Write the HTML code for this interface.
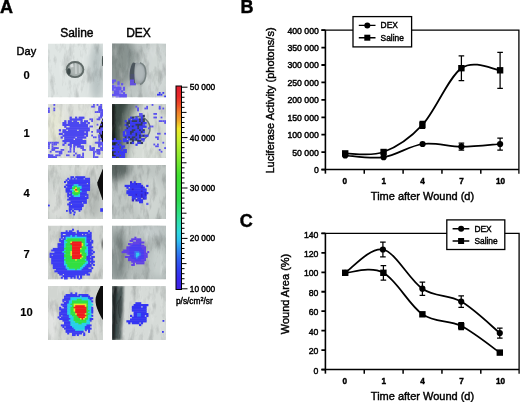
<!DOCTYPE html>
<html><head><meta charset="utf-8"><style>
html,body{margin:0;padding:0;background:#fff;}
body{width:520px;height:402px;overflow:hidden;}
svg{display:block;font-family:"Liberation Sans", sans-serif;will-change:transform;}
text{stroke:#000;stroke-width:0.42px;}
.tk{stroke-width:0.45px;}
</style></head><body>
<svg width="520" height="402" viewBox="0 0 520 402" fill="#000">
<text x="0" y="12.8" font-size="18" font-weight="bold" text-anchor="start" >A</text>
<text x="240.5" y="12.8" font-size="18" font-weight="bold" text-anchor="start" >B</text>
<text x="239.8" y="227.4" font-size="18" font-weight="bold" text-anchor="start" >C</text>
<text x="60.2" y="37.4" font-size="12" font-weight="normal" text-anchor="start" >Saline</text>
<text x="126.2" y="37.4" font-size="12" font-weight="normal" text-anchor="start" >DEX</text>
<text x="16.6" y="54.7" font-size="11" font-weight="normal" text-anchor="start" >Day</text>
<text x="26.5" y="78.5" font-size="11.2" font-weight="bold" text-anchor="middle" style="stroke-width:0.15px">0</text>
<text x="26.5" y="137.3" font-size="11.2" font-weight="bold" text-anchor="middle" style="stroke-width:0.15px">1</text>
<text x="26.5" y="196.6" font-size="11.2" font-weight="bold" text-anchor="middle" style="stroke-width:0.15px">4</text>
<text x="26.5" y="258.4" font-size="11.2" font-weight="bold" text-anchor="middle" style="stroke-width:0.15px">7</text>
<text x="26.5" y="316" font-size="11.2" font-weight="bold" text-anchor="middle" style="stroke-width:0.15px">10</text>
<defs>
<filter id="nd" x="0" y="0" width="100%" height="100%" color-interpolation-filters="sRGB">
 <feTurbulence type="fractalNoise" baseFrequency="0.16 0.06" numOctaves="4" seed="4"/>
 <feColorMatrix type="matrix" values="0 0 0 0 0.1  0 0 0 0 0.12  0 0 0 0 0.12  2.2 0 0 0 -1.05"/>
</filter>
<filter id="nl" x="0" y="0" width="100%" height="100%" color-interpolation-filters="sRGB">
 <feTurbulence type="fractalNoise" baseFrequency="0.2 0.05" numOctaves="4" seed="11"/>
 <feColorMatrix type="matrix" values="0 0 0 0 1  0 0 0 0 1  0 0 0 0 1  -2.2 0 0 0 0.95"/>
</filter>
<filter id="bl1" x="-50%" y="-50%" width="200%" height="200%"><feGaussianBlur stdDeviation="0.9"/></filter>
<filter id="bl2" x="-50%" y="-50%" width="200%" height="200%"><feGaussianBlur stdDeviation="2"/></filter>
<filter id="bl3" x="-50%" y="-50%" width="200%" height="200%"><feGaussianBlur stdDeviation="3.5"/></filter>
<filter id="bb" x="-50%" y="-50%" width="200%" height="200%"><feGaussianBlur stdDeviation="0.6"/></filter>
<filter id="bb2" x="-5%" y="-5%" width="110%" height="110%"><feGaussianBlur stdDeviation="0.3"/></filter>
<clipPath id="tc1"><rect x="48" y="43.5" width="55" height="54"/></clipPath><clipPath id="tc2"><rect x="112" y="43.5" width="54" height="54"/></clipPath><clipPath id="tc3"><rect x="48" y="104" width="55" height="54"/></clipPath><clipPath id="tc4"><rect x="112" y="104" width="54" height="54"/></clipPath><clipPath id="tc5"><rect x="48" y="165" width="55" height="54"/></clipPath><clipPath id="tc6"><rect x="112" y="165" width="54" height="54"/></clipPath><clipPath id="tc7"><rect x="48" y="225.5" width="55" height="54"/></clipPath><clipPath id="tc8"><rect x="112" y="225.5" width="54" height="54"/></clipPath><clipPath id="tc9"><rect x="48" y="286" width="55" height="54"/></clipPath><clipPath id="tc10"><rect x="112" y="286" width="54" height="54"/></clipPath></defs><g clip-path="url(#tc1)"><rect x="48" y="43.5" width="55" height="54" fill="#dfe5e3"/><ellipse cx="97" cy="72" rx="7" ry="30" fill="#b8c2c2" filter="url(#bl3)"/><rect x="48" y="43.5" width="55" height="54" filter="url(#nd)" opacity="0.2"/><rect x="48" y="43.5" width="55" height="54" filter="url(#nl)" opacity="0.36"/><path d="M102.3 56 C101.8 59 101.8 63 102.3 66 L104 66 L104 56Z" fill="#4a5452" filter="url(#bb)"/><ellipse cx="75" cy="69.6" rx="9.2" ry="8.3" fill="#98a2a0" filter="url(#bb)"/><ellipse cx="76" cy="69.4" rx="6.5" ry="6" fill="#aeb6b4" filter="url(#bl1)"/><path d="M70 63.5 L73 63 L73.5 67 L70.5 67.5Z" fill="#e6eaea" opacity="0.8" filter="url(#bb)"/><path d="M74.8 63 L76.6 63 L77 74 L75.2 74Z" fill="#dce2e2" opacity="0.55" filter="url(#bb)"/><path d="M78.8 64 L80.4 64 L80.6 73 L79 73Z" fill="#d4dada" opacity="0.6" filter="url(#bb)"/><ellipse cx="75" cy="69.6" rx="8.4" ry="7.6" fill="none" stroke="#606a68" stroke-width="1.8" filter="url(#bb)"/><ellipse cx="68.9" cy="71.5" rx="1.8" ry="3.2" fill="#3e4848" filter="url(#bb)"/></g>
<g clip-path="url(#tc2)"><rect x="112" y="43.5" width="54" height="54" fill="#bdc5c3"/><ellipse cx="118" cy="60" rx="18" ry="26" fill="#7c8684" filter="url(#bl3)" opacity="0.8"/><ellipse cx="156" cy="70" rx="14" ry="30" fill="#d6dcda" filter="url(#bl3)" opacity="0.8"/><rect x="112" y="43.5" width="54" height="54" filter="url(#nd)" opacity="0.225"/><rect x="112" y="43.5" width="54" height="54" filter="url(#nl)" opacity="0.3"/><ellipse cx="137.3" cy="73.5" rx="8.6" ry="11" fill="#98a0a4" filter="url(#bb)"/><ellipse cx="139.5" cy="73" rx="5" ry="8.5" fill="#b0b8ba" filter="url(#bl1)"/><path d="M133 62.5 C129.5 66 128.5 79 131 84.5 L135.5 84.5 C134 78 134 68 135.5 63Z" fill="#4c545c" filter="url(#bb)"/><path d="M130.5 74 L134.5 74 L134.5 82 L130.5 82Z" fill="#5040d0" opacity="0.15" filter="url(#bb)"/><path d="M140 62.8 C147.5 65 148 81 140 84.5" fill="none" stroke="#788282" stroke-width="1.6" filter="url(#bb)"/><g filter="url(#bb2)"><rect x="112.00" y="79.50" width="4.05" height="2.25" fill="#6254ee"/><rect x="112.00" y="81.30" width="2.25" height="2.25" fill="#6254ee"/><rect x="117.40" y="81.30" width="2.25" height="2.25" fill="#6254ee"/><rect x="117.40" y="83.10" width="2.25" height="2.25" fill="#6254ee"/><rect x="121.00" y="83.10" width="2.25" height="2.25" fill="#6254ee"/><rect x="112.00" y="84.90" width="2.25" height="2.25" fill="#6254ee"/><rect x="113.80" y="84.90" width="2.25" height="2.25" fill="#8a7cf0"/><rect x="117.40" y="84.90" width="2.25" height="2.25" fill="#8a7cf0"/><rect x="112.00" y="86.70" width="9.45" height="2.25" fill="#6254ee"/><rect x="122.80" y="86.70" width="2.25" height="2.25" fill="#6254ee"/><rect x="112.00" y="88.50" width="2.25" height="2.25" fill="#6254ee"/><rect x="113.80" y="88.50" width="2.25" height="2.25" fill="#8a7cf0"/><rect x="115.60" y="88.50" width="5.85" height="2.25" fill="#6254ee"/><rect x="122.80" y="88.50" width="2.25" height="2.25" fill="#6254ee"/><rect x="113.80" y="90.30" width="5.85" height="2.25" fill="#6254ee"/><rect x="119.20" y="90.30" width="2.25" height="2.25" fill="#8a7cf0"/><rect x="121.00" y="90.30" width="2.25" height="2.25" fill="#6254ee"/><rect x="113.80" y="92.10" width="5.85" height="2.25" fill="#6254ee"/><rect x="119.20" y="92.10" width="2.25" height="2.25" fill="#8a7cf0"/><rect x="122.80" y="92.10" width="2.25" height="2.25" fill="#6254ee"/><rect x="112.00" y="93.90" width="14.85" height="2.25" fill="#6254ee"/><rect x="115.60" y="95.70" width="4.05" height="2.25" fill="#8a7cf0"/><rect x="119.20" y="95.70" width="7.65" height="2.25" fill="#6254ee"/><rect x="112.00" y="97.50" width="2.25" height="2.25" fill="#8a7cf0"/><rect x="115.60" y="97.50" width="2.25" height="2.25" fill="#6254ee"/><rect x="119.20" y="97.50" width="2.25" height="2.25" fill="#6254ee"/><rect x="121.00" y="97.50" width="2.25" height="2.25" fill="#8a7cf0"/></g><g filter="url(#bb2)"><rect x="130.00" y="79.50" width="4.05" height="2.25" fill="#6250e0"/><rect x="130.00" y="81.30" width="4.05" height="2.25" fill="#6250e0"/><rect x="130.00" y="83.10" width="5.85" height="2.25" fill="#6250e0"/></g><rect x="164.20" y="95.60" width="1.80" height="1.80" fill="#3a3af2"/><rect x="160.60" y="93.80" width="1.80" height="1.80" fill="#3a3af2"/><rect x="158.80" y="92.00" width="1.80" height="1.80" fill="#3a3af2"/><rect x="157.00" y="93.80" width="3.60" height="1.80" fill="#3a3af2"/><rect x="162.40" y="92.00" width="1.80" height="1.80" fill="#3a3af2"/></g>
<g clip-path="url(#tc3)"><rect x="48" y="104" width="55" height="54" fill="#dfe2dc"/><ellipse cx="55" cy="125" rx="8" ry="18" fill="#e4e6d4" filter="url(#bl3)"/><rect x="48" y="104" width="55" height="54" filter="url(#nd)" opacity="0.175"/><rect x="48" y="104" width="55" height="54" filter="url(#nl)" opacity="0.3"/><path d="M104 117 L103 117.7 L98.6 129 L98.7 131.5 L103 143.8 L104 144 Z" fill="#080808" filter="url(#bb2)"/><g filter="url(#bb2)"><rect x="69.60" y="116.60" width="2.25" height="2.25" fill="#4c46f0"/><rect x="75.00" y="116.60" width="2.25" height="2.25" fill="#4c46f0"/><rect x="78.60" y="116.60" width="5.85" height="2.25" fill="#4c46f0"/><rect x="69.60" y="118.40" width="13.05" height="2.25" fill="#4c46f0"/><rect x="64.20" y="120.20" width="2.25" height="2.25" fill="#4c46f0"/><rect x="67.80" y="120.20" width="4.05" height="2.25" fill="#4c46f0"/><rect x="73.20" y="120.20" width="4.05" height="2.25" fill="#4c46f0"/><rect x="80.40" y="120.20" width="2.25" height="2.25" fill="#4c46f0"/><rect x="84.00" y="120.20" width="4.05" height="2.25" fill="#4c46f0"/><rect x="62.40" y="122.00" width="4.05" height="2.25" fill="#4c46f0"/><rect x="67.80" y="122.00" width="11.25" height="2.25" fill="#4c46f0"/><rect x="80.40" y="122.00" width="5.85" height="2.25" fill="#4c46f0"/><rect x="87.60" y="122.00" width="2.25" height="2.25" fill="#4c46f0"/><rect x="62.40" y="123.80" width="25.65" height="2.25" fill="#4c46f0"/><rect x="64.20" y="125.60" width="2.25" height="2.25" fill="#4c46f0"/><rect x="69.60" y="125.60" width="18.45" height="2.25" fill="#4c46f0"/><rect x="66.00" y="127.40" width="23.85" height="2.25" fill="#4c46f0"/><rect x="58.80" y="129.20" width="2.25" height="2.25" fill="#4c46f0"/><rect x="62.40" y="129.20" width="4.05" height="2.25" fill="#4c46f0"/><rect x="67.80" y="129.20" width="9.45" height="2.25" fill="#4c46f0"/><rect x="78.60" y="129.20" width="11.25" height="2.25" fill="#4c46f0"/><rect x="62.40" y="131.00" width="22.05" height="2.25" fill="#4c46f0"/><rect x="85.80" y="131.00" width="2.25" height="2.25" fill="#4c46f0"/><rect x="58.80" y="132.80" width="4.05" height="2.25" fill="#4c46f0"/><rect x="64.20" y="132.80" width="23.85" height="2.25" fill="#4c46f0"/><rect x="62.40" y="134.60" width="22.05" height="2.25" fill="#4c46f0"/><rect x="85.80" y="134.60" width="2.25" height="2.25" fill="#4c46f0"/><rect x="60.60" y="136.40" width="2.25" height="2.25" fill="#4c46f0"/><rect x="64.20" y="136.40" width="11.25" height="2.25" fill="#4c46f0"/><rect x="76.80" y="136.40" width="9.45" height="2.25" fill="#4c46f0"/><rect x="64.20" y="138.20" width="9.45" height="2.25" fill="#4c46f0"/><rect x="75.00" y="138.20" width="7.65" height="2.25" fill="#4c46f0"/><rect x="62.40" y="140.00" width="23.85" height="2.25" fill="#4c46f0"/><rect x="64.20" y="141.80" width="2.25" height="2.25" fill="#4c46f0"/><rect x="69.60" y="141.80" width="16.65" height="2.25" fill="#4c46f0"/><rect x="62.40" y="143.60" width="2.25" height="2.25" fill="#4c46f0"/><rect x="67.80" y="143.60" width="4.05" height="2.25" fill="#4c46f0"/><rect x="73.20" y="143.60" width="7.65" height="2.25" fill="#4c46f0"/><rect x="69.60" y="145.40" width="2.25" height="2.25" fill="#4c46f0"/><rect x="73.20" y="145.40" width="2.25" height="2.25" fill="#4c46f0"/><rect x="76.80" y="145.40" width="5.85" height="2.25" fill="#4c46f0"/></g><rect x="96.60" y="129.20" width="1.80" height="1.80" fill="#5a52ee"/><rect x="98.40" y="150.80" width="1.80" height="1.80" fill="#5a52ee"/><rect x="102.00" y="149.00" width="1.80" height="1.80" fill="#5a52ee"/><rect x="73.20" y="154.40" width="1.80" height="1.80" fill="#5a52ee"/><rect x="48.00" y="154.40" width="1.80" height="1.80" fill="#5a52ee"/><rect x="89.40" y="125.60" width="3.60" height="1.80" fill="#5a52ee"/><rect x="51.60" y="145.40" width="1.80" height="1.80" fill="#5a52ee"/><rect x="93.00" y="104.00" width="1.80" height="1.80" fill="#5a52ee"/><rect x="98.40" y="109.40" width="1.80" height="3.60" fill="#5a52ee"/><rect x="89.40" y="149.00" width="3.60" height="1.80" fill="#5a52ee"/><rect x="82.20" y="149.00" width="1.80" height="1.80" fill="#5a52ee"/><rect x="55.20" y="154.40" width="1.80" height="1.80" fill="#5a52ee"/><rect x="48.00" y="147.20" width="1.80" height="1.80" fill="#5a52ee"/><rect x="102.00" y="120.20" width="3.60" height="1.80" fill="#5a52ee"/><rect x="51.60" y="149.00" width="3.60" height="1.80" fill="#5a52ee"/><rect x="57.00" y="150.80" width="1.80" height="1.80" fill="#5a52ee"/><rect x="51.60" y="156.20" width="1.80" height="1.80" fill="#5a52ee"/><rect x="51.60" y="156.20" width="1.80" height="3.60" fill="#5a52ee"/><rect x="100.20" y="114.80" width="1.80" height="3.60" fill="#5a52ee"/><rect x="98.40" y="143.60" width="1.80" height="3.60" fill="#5a52ee"/><rect x="98.40" y="138.20" width="1.80" height="3.60" fill="#5a52ee"/><rect x="49.80" y="154.40" width="3.60" height="1.80" fill="#5a52ee"/><rect x="51.60" y="156.20" width="3.60" height="1.80" fill="#5a52ee"/><rect x="49.80" y="150.80" width="1.80" height="1.80" fill="#5a52ee"/><rect x="89.40" y="145.40" width="1.80" height="3.60" fill="#5a52ee"/><rect x="48.00" y="109.40" width="1.80" height="3.60" fill="#5a52ee"/><rect x="48.00" y="156.20" width="3.60" height="3.60" fill="#5a52ee"/><rect x="84.00" y="149.00" width="1.80" height="1.80" fill="#5a52ee"/><rect x="96.60" y="111.20" width="1.80" height="1.80" fill="#5a52ee"/><rect x="96.60" y="141.80" width="3.60" height="1.80" fill="#5a52ee"/><rect x="98.40" y="105.80" width="3.60" height="3.60" fill="#5a52ee"/><rect x="98.40" y="129.20" width="3.60" height="1.80" fill="#5a52ee"/><rect x="102.00" y="143.60" width="1.80" height="3.60" fill="#5a52ee"/><rect x="94.80" y="136.40" width="1.80" height="1.80" fill="#5a52ee"/><rect x="48.00" y="154.40" width="1.80" height="1.80" fill="#5a52ee"/><rect x="98.40" y="145.40" width="1.80" height="1.80" fill="#5a52ee"/><rect x="94.80" y="141.80" width="3.60" height="1.80" fill="#5a52ee"/><rect x="66.00" y="154.40" width="3.60" height="1.80" fill="#5a52ee"/><rect x="93.00" y="152.60" width="1.80" height="1.80" fill="#5a52ee"/><rect x="96.60" y="111.20" width="1.80" height="1.80" fill="#5a52ee"/><rect x="100.20" y="105.80" width="1.80" height="1.80" fill="#5a52ee"/><rect x="96.60" y="152.60" width="3.60" height="1.80" fill="#5a52ee"/><rect x="91.20" y="134.60" width="1.80" height="1.80" fill="#5a52ee"/><rect x="76.80" y="156.20" width="1.80" height="1.80" fill="#5a52ee"/><rect x="73.20" y="150.80" width="1.80" height="1.80" fill="#5a52ee"/><rect x="93.00" y="147.20" width="1.80" height="3.60" fill="#5a52ee"/><rect x="96.60" y="149.00" width="1.80" height="1.80" fill="#5a52ee"/><rect x="53.40" y="107.60" width="1.80" height="1.80" fill="#5a52ee"/><rect x="48.00" y="143.60" width="1.80" height="1.80" fill="#5a52ee"/><rect x="93.00" y="152.60" width="1.80" height="1.80" fill="#5a52ee"/><rect x="53.40" y="104.00" width="1.80" height="1.80" fill="#5a52ee"/><rect x="48.00" y="154.40" width="1.80" height="1.80" fill="#5a52ee"/><rect x="78.60" y="154.40" width="1.80" height="3.60" fill="#5a52ee"/><rect x="98.40" y="141.80" width="3.60" height="3.60" fill="#5a52ee"/><rect x="94.80" y="156.20" width="3.60" height="1.80" fill="#5a52ee"/><rect x="96.60" y="118.40" width="3.60" height="1.80" fill="#5a52ee"/><rect x="98.40" y="150.80" width="1.80" height="1.80" fill="#5a52ee"/><rect x="98.40" y="141.80" width="1.80" height="3.60" fill="#5a52ee"/><rect x="58.80" y="150.80" width="3.60" height="3.60" fill="#5a52ee"/><rect x="48.00" y="107.60" width="1.80" height="1.80" fill="#5a52ee"/><rect x="58.80" y="154.40" width="1.80" height="1.80" fill="#5a52ee"/><rect x="91.20" y="147.20" width="3.60" height="1.80" fill="#5a52ee"/><rect x="53.40" y="147.20" width="1.80" height="1.80" fill="#5a52ee"/><rect x="76.80" y="154.40" width="3.60" height="1.80" fill="#5a52ee"/><rect x="102.00" y="109.40" width="1.80" height="1.80" fill="#5a52ee"/><rect x="80.40" y="147.20" width="3.60" height="1.80" fill="#5a52ee"/><rect x="53.40" y="156.20" width="3.60" height="1.80" fill="#5a52ee"/><rect x="51.60" y="141.80" width="1.80" height="1.80" fill="#5a52ee"/><rect x="76.80" y="156.20" width="1.80" height="3.60" fill="#5a52ee"/><rect x="98.40" y="116.60" width="1.80" height="3.60" fill="#5a52ee"/><rect x="93.00" y="152.60" width="1.80" height="1.80" fill="#5a52ee"/><rect x="69.60" y="147.20" width="1.80" height="1.80" fill="#5a52ee"/><rect x="55.20" y="143.60" width="1.80" height="1.80" fill="#5a52ee"/><rect x="55.20" y="147.20" width="1.80" height="1.80" fill="#5a52ee"/><rect x="96.60" y="149.00" width="3.60" height="1.80" fill="#5a52ee"/><rect x="80.40" y="156.20" width="3.60" height="1.80" fill="#5a52ee"/><rect x="82.20" y="145.40" width="1.80" height="3.60" fill="#5a52ee"/><rect x="100.20" y="138.20" width="1.80" height="1.80" fill="#5a52ee"/><rect x="102.00" y="129.20" width="1.80" height="1.80" fill="#5a52ee"/><rect x="96.60" y="149.00" width="1.80" height="3.60" fill="#5a52ee"/><rect x="94.80" y="150.80" width="1.80" height="1.80" fill="#5a52ee"/><rect x="98.40" y="152.60" width="1.80" height="1.80" fill="#5a52ee"/><rect x="100.20" y="123.80" width="1.80" height="1.80" fill="#5a52ee"/><rect x="100.20" y="104.00" width="1.80" height="1.80" fill="#5a52ee"/><rect x="100.20" y="147.20" width="3.60" height="1.80" fill="#5a52ee"/><rect x="82.20" y="152.60" width="1.80" height="3.60" fill="#5a52ee"/><rect x="102.00" y="143.60" width="3.60" height="1.80" fill="#5a52ee"/><rect x="93.00" y="136.40" width="1.80" height="1.80" fill="#5a52ee"/><rect x="96.60" y="149.00" width="3.60" height="1.80" fill="#5a52ee"/><rect x="75.00" y="152.60" width="1.80" height="1.80" fill="#5a52ee"/><rect x="48.00" y="145.40" width="1.80" height="1.80" fill="#5a52ee"/><rect x="100.20" y="114.80" width="1.80" height="1.80" fill="#5a52ee"/><rect x="53.40" y="147.20" width="1.80" height="1.80" fill="#5a52ee"/><rect x="69.60" y="150.80" width="1.80" height="1.80" fill="#5a52ee"/><rect x="67.80" y="150.80" width="1.80" height="1.80" fill="#5a52ee"/><rect x="51.60" y="149.00" width="1.80" height="1.80" fill="#5a52ee"/><rect x="93.00" y="154.40" width="1.80" height="3.60" fill="#5a52ee"/><rect x="51.60" y="147.20" width="1.80" height="1.80" fill="#5a52ee"/><rect x="96.60" y="150.80" width="1.80" height="1.80" fill="#5a52ee"/><rect x="100.20" y="131.00" width="1.80" height="3.60" fill="#5a52ee"/><rect x="55.20" y="141.80" width="1.80" height="1.80" fill="#5a52ee"/><rect x="91.20" y="118.40" width="1.80" height="3.60" fill="#5a52ee"/><rect x="102.00" y="111.20" width="1.80" height="1.80" fill="#5a52ee"/><rect x="98.40" y="134.60" width="1.80" height="3.60" fill="#5a52ee"/><rect x="53.40" y="141.80" width="1.80" height="3.60" fill="#5a52ee"/><rect x="93.00" y="150.80" width="1.80" height="3.60" fill="#5a52ee"/><rect x="73.20" y="147.20" width="1.80" height="3.60" fill="#5a52ee"/><rect x="91.20" y="149.00" width="1.80" height="1.80" fill="#5a52ee"/><rect x="48.00" y="156.20" width="3.60" height="1.80" fill="#5a52ee"/><rect x="94.80" y="111.20" width="1.80" height="1.80" fill="#5a52ee"/><rect x="100.20" y="113.00" width="3.60" height="3.60" fill="#5a52ee"/><rect x="100.20" y="147.20" width="3.60" height="3.60" fill="#5a52ee"/><rect x="51.60" y="143.60" width="1.80" height="1.80" fill="#5a52ee"/><rect x="49.80" y="141.80" width="1.80" height="1.80" fill="#5a52ee"/><rect x="55.20" y="147.20" width="1.80" height="1.80" fill="#5a52ee"/><rect x="48.00" y="141.80" width="1.80" height="3.60" fill="#5a52ee"/><rect x="98.40" y="152.60" width="1.80" height="1.80" fill="#5a52ee"/><rect x="98.40" y="107.60" width="3.60" height="3.60" fill="#5a52ee"/><rect x="100.20" y="131.00" width="1.80" height="1.80" fill="#5a52ee"/><rect x="76.80" y="156.20" width="1.80" height="1.80" fill="#5a52ee"/><rect x="55.20" y="147.20" width="3.60" height="1.80" fill="#5a52ee"/><rect x="100.20" y="109.40" width="3.60" height="1.80" fill="#5a52ee"/><rect x="69.60" y="149.00" width="1.80" height="1.80" fill="#5a52ee"/><rect x="96.60" y="131.00" width="3.60" height="1.80" fill="#5a52ee"/><rect x="53.40" y="109.40" width="1.80" height="1.80" fill="#5a52ee"/><rect x="57.00" y="154.40" width="1.80" height="1.80" fill="#5a52ee"/><rect x="55.20" y="150.80" width="1.80" height="1.80" fill="#5a52ee"/><rect x="100.20" y="127.40" width="3.60" height="3.60" fill="#5a52ee"/><rect x="98.40" y="143.60" width="1.80" height="3.60" fill="#5a52ee"/><rect x="98.40" y="136.40" width="1.80" height="1.80" fill="#5a52ee"/><rect x="96.60" y="104.00" width="1.80" height="1.80" fill="#5a52ee"/><rect x="100.20" y="141.80" width="3.60" height="1.80" fill="#5a52ee"/><rect x="60.60" y="149.00" width="3.60" height="1.80" fill="#5a52ee"/><rect x="89.40" y="118.40" width="1.80" height="1.80" fill="#5a52ee"/><rect x="100.20" y="111.20" width="3.60" height="1.80" fill="#5a52ee"/><rect x="91.20" y="105.80" width="3.60" height="1.80" fill="#5a52ee"/><rect x="91.20" y="131.00" width="1.80" height="1.80" fill="#5a52ee"/><rect x="98.40" y="134.60" width="1.80" height="1.80" fill="#5a52ee"/><rect x="96.60" y="123.80" width="1.80" height="1.80" fill="#5a52ee"/><rect x="55.20" y="141.80" width="3.60" height="1.80" fill="#5a52ee"/></g>
<g clip-path="url(#tc4)"><rect x="112" y="104" width="54" height="54" fill="#d6dcd6"/><path d="M110 100 L142 100 C134 110 129 120 128 130 C127 140 128 150 127 162 L110 162Z" fill="#6e7c76" filter="url(#bl3)"/><path d="M110 100 L130 100 C124 110 121 120 120 130 C120 140 121 150 120 162 L110 162Z" fill="#3a4842" filter="url(#bl2)"/><path d="M112 104 L115 104 C114.5 115 114.5 125 115 135 C115.5 143 115.5 150 115 158 L112 158Z" fill="#101614" filter="url(#bl1)"/><rect x="112" y="104" width="54" height="54" filter="url(#nd)" opacity="0.2"/><rect x="112" y="104" width="54" height="54" filter="url(#nl)" opacity="0.27"/><circle cx="138" cy="128.5" r="12" fill="#a8b0ac" opacity="0.7"/><circle cx="138" cy="128.5" r="12" fill="none" stroke="#6c7672" stroke-width="1.4" filter="url(#bb)"/><g filter="url(#bb2)"><rect x="140.80" y="114.80" width="2.25" height="2.25" fill="#3a3af2"/><rect x="142.60" y="114.80" width="2.25" height="2.25" fill="#303a60"/><rect x="130.00" y="116.60" width="2.25" height="2.25" fill="#3a3af2"/><rect x="131.80" y="116.60" width="2.25" height="2.25" fill="#303a60"/><rect x="135.40" y="116.60" width="2.25" height="2.25" fill="#3a3af2"/><rect x="140.80" y="116.60" width="2.25" height="2.25" fill="#3a3af2"/><rect x="128.20" y="118.40" width="2.25" height="2.25" fill="#3a3af2"/><rect x="131.80" y="118.40" width="7.65" height="2.25" fill="#3a3af2"/><rect x="139.00" y="118.40" width="2.25" height="2.25" fill="#303a60"/><rect x="140.80" y="118.40" width="2.25" height="2.25" fill="#3a3af2"/><rect x="142.60" y="118.40" width="2.25" height="2.25" fill="#303a60"/><rect x="124.60" y="120.20" width="2.25" height="2.25" fill="#3a3af2"/><rect x="128.20" y="120.20" width="2.25" height="2.25" fill="#303a60"/><rect x="130.00" y="120.20" width="2.25" height="2.25" fill="#3a3af2"/><rect x="131.80" y="120.20" width="5.85" height="2.25" fill="#303a60"/><rect x="137.20" y="120.20" width="2.25" height="2.25" fill="#3a3af2"/><rect x="139.00" y="120.20" width="2.25" height="2.25" fill="#303a60"/><rect x="140.80" y="120.20" width="2.25" height="2.25" fill="#3a3af2"/><rect x="142.60" y="120.20" width="2.25" height="2.25" fill="#303a60"/><rect x="126.40" y="122.00" width="4.05" height="2.25" fill="#303a60"/><rect x="130.00" y="122.00" width="11.25" height="2.25" fill="#3a3af2"/><rect x="140.80" y="122.00" width="2.25" height="2.25" fill="#303a60"/><rect x="142.60" y="122.00" width="4.05" height="2.25" fill="#3a3af2"/><rect x="124.60" y="123.80" width="2.25" height="2.25" fill="#3a3af2"/><rect x="126.40" y="123.80" width="2.25" height="2.25" fill="#303a60"/><rect x="130.00" y="123.80" width="5.85" height="2.25" fill="#3a3af2"/><rect x="135.40" y="123.80" width="7.65" height="2.25" fill="#303a60"/><rect x="142.60" y="123.80" width="2.25" height="2.25" fill="#3a3af2"/><rect x="126.40" y="125.60" width="2.25" height="2.25" fill="#3a3af2"/><rect x="128.20" y="125.60" width="2.25" height="2.25" fill="#303a60"/><rect x="130.00" y="125.60" width="2.25" height="2.25" fill="#3a3af2"/><rect x="131.80" y="125.60" width="2.25" height="2.25" fill="#303a60"/><rect x="133.60" y="125.60" width="4.05" height="2.25" fill="#3a3af2"/><rect x="137.20" y="125.60" width="2.25" height="2.25" fill="#303a60"/><rect x="139.00" y="125.60" width="7.65" height="2.25" fill="#3a3af2"/><rect x="126.40" y="127.40" width="2.25" height="2.25" fill="#303a60"/><rect x="128.20" y="127.40" width="9.45" height="2.25" fill="#3a3af2"/><rect x="137.20" y="127.40" width="2.25" height="2.25" fill="#303a60"/><rect x="139.00" y="127.40" width="4.05" height="2.25" fill="#3a3af2"/><rect x="124.60" y="129.20" width="7.65" height="2.25" fill="#3a3af2"/><rect x="131.80" y="129.20" width="4.05" height="2.25" fill="#303a60"/><rect x="135.40" y="129.20" width="4.05" height="2.25" fill="#3a3af2"/><rect x="139.00" y="129.20" width="2.25" height="2.25" fill="#303a60"/><rect x="140.80" y="129.20" width="2.25" height="2.25" fill="#3a3af2"/><rect x="142.60" y="129.20" width="2.25" height="2.25" fill="#303a60"/><rect x="122.80" y="131.00" width="2.25" height="2.25" fill="#3a3af2"/><rect x="126.40" y="131.00" width="4.05" height="2.25" fill="#3a3af2"/><rect x="130.00" y="131.00" width="4.05" height="2.25" fill="#303a60"/><rect x="133.60" y="131.00" width="7.65" height="2.25" fill="#3a3af2"/><rect x="140.80" y="131.00" width="2.25" height="2.25" fill="#303a60"/><rect x="142.60" y="131.00" width="2.25" height="2.25" fill="#3a3af2"/><rect x="122.80" y="132.80" width="2.25" height="2.25" fill="#3a3af2"/><rect x="126.40" y="132.80" width="4.05" height="2.25" fill="#3a3af2"/><rect x="130.00" y="132.80" width="2.25" height="2.25" fill="#303a60"/><rect x="131.80" y="132.80" width="4.05" height="2.25" fill="#3a3af2"/><rect x="135.40" y="132.80" width="2.25" height="2.25" fill="#303a60"/><rect x="137.20" y="132.80" width="4.05" height="2.25" fill="#3a3af2"/><rect x="122.80" y="134.60" width="13.05" height="2.25" fill="#3a3af2"/><rect x="135.40" y="134.60" width="2.25" height="2.25" fill="#303a60"/><rect x="137.20" y="134.60" width="2.25" height="2.25" fill="#3a3af2"/><rect x="139.00" y="134.60" width="2.25" height="2.25" fill="#303a60"/><rect x="140.80" y="134.60" width="2.25" height="2.25" fill="#3a3af2"/><rect x="142.60" y="134.60" width="2.25" height="2.25" fill="#303a60"/><rect x="144.40" y="134.60" width="4.05" height="2.25" fill="#3a3af2"/><rect x="124.60" y="136.40" width="2.25" height="2.25" fill="#303a60"/><rect x="126.40" y="136.40" width="2.25" height="2.25" fill="#3a3af2"/><rect x="128.20" y="136.40" width="2.25" height="2.25" fill="#303a60"/><rect x="130.00" y="136.40" width="2.25" height="2.25" fill="#3a3af2"/><rect x="131.80" y="136.40" width="4.05" height="2.25" fill="#303a60"/><rect x="135.40" y="136.40" width="4.05" height="2.25" fill="#3a3af2"/><rect x="139.00" y="136.40" width="2.25" height="2.25" fill="#303a60"/><rect x="122.80" y="138.20" width="4.05" height="2.25" fill="#3a3af2"/><rect x="128.20" y="138.20" width="2.25" height="2.25" fill="#3a3af2"/><rect x="130.00" y="138.20" width="4.05" height="2.25" fill="#303a60"/><rect x="133.60" y="138.20" width="2.25" height="2.25" fill="#3a3af2"/><rect x="135.40" y="138.20" width="2.25" height="2.25" fill="#303a60"/><rect x="137.20" y="138.20" width="2.25" height="2.25" fill="#3a3af2"/><rect x="140.80" y="138.20" width="4.05" height="2.25" fill="#3a3af2"/><rect x="122.80" y="140.00" width="5.85" height="2.25" fill="#3a3af2"/><rect x="131.80" y="140.00" width="2.25" height="2.25" fill="#303a60"/><rect x="137.20" y="140.00" width="4.05" height="2.25" fill="#303a60"/><rect x="126.40" y="141.80" width="2.25" height="2.25" fill="#303a60"/><rect x="130.00" y="141.80" width="2.25" height="2.25" fill="#303a60"/><rect x="131.80" y="141.80" width="2.25" height="2.25" fill="#3a3af2"/><rect x="137.20" y="141.80" width="4.05" height="2.25" fill="#3a3af2"/><rect x="140.80" y="141.80" width="2.25" height="2.25" fill="#303a60"/><rect x="135.40" y="143.60" width="2.25" height="2.25" fill="#3a3af2"/></g><g filter="url(#bb2)"><rect x="113.80" y="138.20" width="2.25" height="2.25" fill="#3a3af2"/><rect x="112.00" y="140.00" width="9.45" height="2.25" fill="#3a3af2"/><rect x="117.40" y="141.80" width="2.25" height="2.25" fill="#3a3af2"/><rect x="115.60" y="143.60" width="2.25" height="2.25" fill="#3a3af2"/><rect x="119.20" y="143.60" width="2.25" height="2.25" fill="#3a3af2"/><rect x="112.00" y="145.40" width="7.65" height="2.25" fill="#3a3af2"/><rect x="121.00" y="145.40" width="4.05" height="2.25" fill="#3a3af2"/><rect x="113.80" y="147.20" width="5.85" height="2.25" fill="#3a3af2"/><rect x="121.00" y="147.20" width="2.25" height="2.25" fill="#3a3af2"/><rect x="112.00" y="149.00" width="9.45" height="2.25" fill="#3a3af2"/><rect x="122.80" y="149.00" width="4.05" height="2.25" fill="#3a3af2"/><rect x="115.60" y="150.80" width="2.25" height="2.25" fill="#3a3af2"/><rect x="119.20" y="150.80" width="7.65" height="2.25" fill="#3a3af2"/><rect x="113.80" y="152.60" width="11.25" height="2.25" fill="#3a3af2"/><rect x="115.60" y="154.40" width="4.05" height="2.25" fill="#3a3af2"/><rect x="121.00" y="154.40" width="4.05" height="2.25" fill="#3a3af2"/><rect x="112.00" y="156.20" width="4.05" height="2.25" fill="#3a3af2"/><rect x="119.20" y="156.20" width="5.85" height="2.25" fill="#3a3af2"/><rect x="113.80" y="158.00" width="2.25" height="2.25" fill="#3a3af2"/><rect x="119.20" y="158.00" width="2.25" height="2.25" fill="#3a3af2"/><rect x="122.80" y="158.00" width="2.25" height="2.25" fill="#3a3af2"/></g><rect x="164.20" y="132.80" width="3.60" height="1.80" fill="#5a52ee"/><rect x="144.40" y="107.60" width="1.80" height="1.80" fill="#5a52ee"/><rect x="155.20" y="145.40" width="3.60" height="1.80" fill="#5a52ee"/><rect x="135.40" y="105.80" width="1.80" height="1.80" fill="#5a52ee"/><rect x="142.60" y="140.00" width="1.80" height="1.80" fill="#5a52ee"/><rect x="155.20" y="136.40" width="1.80" height="1.80" fill="#5a52ee"/><rect x="160.60" y="150.80" width="1.80" height="1.80" fill="#5a52ee"/><rect x="148.00" y="127.40" width="1.80" height="1.80" fill="#5a52ee"/><rect x="153.40" y="113.00" width="3.60" height="1.80" fill="#5a52ee"/><rect x="162.40" y="120.20" width="1.80" height="1.80" fill="#5a52ee"/><rect x="164.20" y="147.20" width="1.80" height="1.80" fill="#5a52ee"/><rect x="137.20" y="107.60" width="1.80" height="3.60" fill="#5a52ee"/><rect x="158.80" y="149.00" width="1.80" height="1.80" fill="#5a52ee"/><rect x="149.80" y="125.60" width="1.80" height="1.80" fill="#5a52ee"/><rect x="158.80" y="107.60" width="1.80" height="1.80" fill="#5a52ee"/><rect x="158.80" y="105.80" width="1.80" height="3.60" fill="#5a52ee"/><rect x="158.80" y="120.20" width="3.60" height="1.80" fill="#5a52ee"/><rect x="157.00" y="132.80" width="3.60" height="1.80" fill="#5a52ee"/><rect x="153.40" y="143.60" width="1.80" height="1.80" fill="#5a52ee"/><rect x="139.00" y="113.00" width="3.60" height="3.60" fill="#5a52ee"/><rect x="164.20" y="120.20" width="3.60" height="3.60" fill="#5a52ee"/><rect x="160.60" y="116.60" width="1.80" height="1.80" fill="#5a52ee"/><rect x="153.40" y="116.60" width="3.60" height="1.80" fill="#5a52ee"/><rect x="162.40" y="107.60" width="1.80" height="1.80" fill="#5a52ee"/><rect x="137.20" y="107.60" width="1.80" height="3.60" fill="#5a52ee"/><rect x="162.40" y="141.80" width="1.80" height="1.80" fill="#5a52ee"/><rect x="142.60" y="123.80" width="1.80" height="1.80" fill="#5a52ee"/><rect x="157.00" y="143.60" width="1.80" height="1.80" fill="#5a52ee"/><rect x="151.60" y="125.60" width="1.80" height="1.80" fill="#5a52ee"/><rect x="157.00" y="136.40" width="1.80" height="3.60" fill="#5a52ee"/><rect x="151.60" y="104.00" width="1.80" height="1.80" fill="#5a52ee"/><rect x="146.20" y="105.80" width="1.80" height="3.60" fill="#5a52ee"/></g>
<g clip-path="url(#tc5)"><rect x="48" y="165" width="55" height="54" fill="#ccd1cd"/><ellipse cx="70" cy="167" rx="26" ry="8" fill="#d6dad6" filter="url(#bl3)"/><ellipse cx="56" cy="205" rx="10" ry="16" fill="#d8dcd8" filter="url(#bl3)"/><ellipse cx="94" cy="200" rx="6" ry="18" fill="#b0b6b2" filter="url(#bl3)"/><rect x="48" y="165" width="55" height="54" filter="url(#nd)" opacity="0.225"/><rect x="48" y="165" width="55" height="54" filter="url(#nl)" opacity="0.3"/><path d="M104 168.5 L102.8 169 L97.3 182.5 L97.5 185 L102.6 200 L104 200.5 Z" fill="#080808" filter="url(#bb2)"/><g filter="url(#bb2)"><rect x="70.40" y="176.20" width="3.65" height="2.05" fill="#3a3af2"/><rect x="75.20" y="176.20" width="10.05" height="2.05" fill="#3a3af2"/><rect x="67.20" y="177.80" width="2.05" height="2.05" fill="#3a3af2"/><rect x="70.40" y="177.80" width="2.05" height="2.05" fill="#3a3af2"/><rect x="73.60" y="177.80" width="2.05" height="2.05" fill="#3a3af2"/><rect x="76.80" y="177.80" width="6.85" height="2.05" fill="#3a3af2"/><rect x="84.80" y="177.80" width="5.25" height="2.05" fill="#3a3af2"/><rect x="65.60" y="179.40" width="2.05" height="2.05" fill="#3a3af2"/><rect x="68.80" y="179.40" width="21.25" height="2.05" fill="#3a3af2"/><rect x="64.00" y="181.00" width="2.05" height="2.05" fill="#3a3af2"/><rect x="67.20" y="181.00" width="22.85" height="2.05" fill="#3a3af2"/><rect x="67.20" y="182.60" width="19.65" height="2.05" fill="#3a3af2"/><rect x="88.00" y="182.60" width="2.05" height="2.05" fill="#3a3af2"/><rect x="65.60" y="184.20" width="8.45" height="2.05" fill="#3a3af2"/><rect x="73.60" y="184.20" width="5.25" height="2.05" fill="#28d0e8"/><rect x="78.40" y="184.20" width="11.65" height="2.05" fill="#3a3af2"/><rect x="64.00" y="185.80" width="2.05" height="2.05" fill="#3a3af2"/><rect x="67.20" y="185.80" width="5.25" height="2.05" fill="#3a3af2"/><rect x="72.00" y="185.80" width="2.05" height="2.05" fill="#28d0e8"/><rect x="73.60" y="185.80" width="3.65" height="2.05" fill="#30e040"/><rect x="76.80" y="185.80" width="5.25" height="2.05" fill="#28d0e8"/><rect x="81.60" y="185.80" width="8.45" height="2.05" fill="#3a3af2"/><rect x="65.60" y="187.40" width="6.85" height="2.05" fill="#3a3af2"/><rect x="72.00" y="187.40" width="3.65" height="2.05" fill="#30e040"/><rect x="75.20" y="187.40" width="2.05" height="2.05" fill="#e8e828"/><rect x="76.80" y="187.40" width="3.65" height="2.05" fill="#30e040"/><rect x="80.00" y="187.40" width="2.05" height="2.05" fill="#28d0e8"/><rect x="81.60" y="187.40" width="8.45" height="2.05" fill="#3a3af2"/><rect x="65.60" y="189.00" width="5.25" height="2.05" fill="#3a3af2"/><rect x="70.40" y="189.00" width="3.65" height="2.05" fill="#28d0e8"/><rect x="73.60" y="189.00" width="2.05" height="2.05" fill="#e8e828"/><rect x="75.20" y="189.00" width="2.05" height="2.05" fill="#f01c1c"/><rect x="76.80" y="189.00" width="3.65" height="2.05" fill="#30e040"/><rect x="80.00" y="189.00" width="10.05" height="2.05" fill="#3a3af2"/><rect x="65.60" y="190.60" width="6.85" height="2.05" fill="#3a3af2"/><rect x="72.00" y="190.60" width="2.05" height="2.05" fill="#28d0e8"/><rect x="73.60" y="190.60" width="2.05" height="2.05" fill="#30e040"/><rect x="75.20" y="190.60" width="3.65" height="2.05" fill="#e8e828"/><rect x="78.40" y="190.60" width="2.05" height="2.05" fill="#30e040"/><rect x="80.00" y="190.60" width="2.05" height="2.05" fill="#28d0e8"/><rect x="81.60" y="190.60" width="5.25" height="2.05" fill="#3a3af2"/><rect x="67.20" y="192.20" width="2.05" height="2.05" fill="#3a3af2"/><rect x="70.40" y="192.20" width="2.05" height="2.05" fill="#3a3af2"/><rect x="72.00" y="192.20" width="8.45" height="2.05" fill="#30e040"/><rect x="80.00" y="192.20" width="6.85" height="2.05" fill="#3a3af2"/><rect x="67.20" y="193.80" width="5.25" height="2.05" fill="#3a3af2"/><rect x="72.00" y="193.80" width="2.05" height="2.05" fill="#28d0e8"/><rect x="73.60" y="193.80" width="5.25" height="2.05" fill="#30e040"/><rect x="78.40" y="193.80" width="2.05" height="2.05" fill="#28d0e8"/><rect x="80.00" y="193.80" width="8.45" height="2.05" fill="#3a3af2"/><rect x="67.20" y="195.40" width="2.05" height="2.05" fill="#3a3af2"/><rect x="70.40" y="195.40" width="3.65" height="2.05" fill="#3a3af2"/><rect x="73.60" y="195.40" width="6.85" height="2.05" fill="#28d0e8"/><rect x="80.00" y="195.40" width="5.25" height="2.05" fill="#3a3af2"/><rect x="86.40" y="195.40" width="2.05" height="2.05" fill="#3a3af2"/><rect x="68.80" y="197.00" width="19.65" height="2.05" fill="#3a3af2"/><rect x="67.20" y="198.60" width="19.65" height="2.05" fill="#3a3af2"/><rect x="70.40" y="200.20" width="16.45" height="2.05" fill="#3a3af2"/><rect x="68.80" y="201.80" width="13.25" height="2.05" fill="#3a3af2"/><rect x="83.20" y="201.80" width="3.65" height="2.05" fill="#3a3af2"/><rect x="67.20" y="203.40" width="3.65" height="2.05" fill="#3a3af2"/><rect x="72.00" y="203.40" width="11.65" height="2.05" fill="#3a3af2"/><rect x="68.80" y="205.00" width="14.85" height="2.05" fill="#3a3af2"/><rect x="68.80" y="206.60" width="13.25" height="2.05" fill="#3a3af2"/><rect x="68.80" y="208.20" width="3.65" height="2.05" fill="#3a3af2"/><rect x="73.60" y="208.20" width="8.45" height="2.05" fill="#3a3af2"/><rect x="68.80" y="209.80" width="2.05" height="2.05" fill="#3a3af2"/><rect x="72.00" y="209.80" width="2.05" height="2.05" fill="#3a3af2"/><rect x="73.60" y="211.40" width="2.05" height="2.05" fill="#3a3af2"/></g><rect x="48.00" y="204.60" width="1.80" height="1.80" fill="#3a3af2"/><rect x="78.60" y="210.00" width="1.80" height="1.80" fill="#3a3af2"/><rect x="66.00" y="210.00" width="1.80" height="1.80" fill="#3a3af2"/><rect x="73.20" y="213.60" width="1.80" height="1.80" fill="#3a3af2"/><rect x="69.60" y="211.80" width="1.80" height="1.80" fill="#3a3af2"/><rect x="69.60" y="211.80" width="1.80" height="1.80" fill="#3a3af2"/><rect x="100.20" y="208.20" width="3.60" height="3.60" fill="#3a3af2"/></g>
<g clip-path="url(#tc6)"><rect x="112" y="165" width="54" height="54" fill="#bfc6c3"/><ellipse cx="116" cy="168" rx="14" ry="12" fill="#5c6664" filter="url(#bl3)"/><ellipse cx="150" cy="200" rx="14" ry="22" fill="#cfd5d2" filter="url(#bl3)"/><rect x="112" y="165" width="54" height="54" filter="url(#nd)" opacity="0.25"/><rect x="112" y="165" width="54" height="54" filter="url(#nl)" opacity="0.3"/><g filter="url(#bb2)"><rect x="130.00" y="181.20" width="2.25" height="2.25" fill="#3024c8"/><rect x="133.60" y="181.20" width="2.25" height="2.25" fill="#3636f2"/><rect x="130.00" y="183.00" width="5.85" height="2.25" fill="#3636f2"/><rect x="135.40" y="183.00" width="2.25" height="2.25" fill="#3024c8"/><rect x="137.20" y="183.00" width="4.05" height="2.25" fill="#3636f2"/><rect x="124.60" y="184.80" width="18.45" height="2.25" fill="#3636f2"/><rect x="146.20" y="184.80" width="2.25" height="2.25" fill="#3a3aee"/><rect x="126.40" y="186.60" width="2.25" height="2.25" fill="#3636f2"/><rect x="130.00" y="186.60" width="11.25" height="2.25" fill="#3636f2"/><rect x="140.80" y="186.60" width="2.25" height="2.25" fill="#3024c8"/><rect x="142.60" y="186.60" width="2.25" height="2.25" fill="#3636f2"/><rect x="128.20" y="188.40" width="4.05" height="2.25" fill="#3636f2"/><rect x="131.80" y="188.40" width="2.25" height="2.25" fill="#3024c8"/><rect x="133.60" y="188.40" width="13.05" height="2.25" fill="#3636f2"/><rect x="126.40" y="190.20" width="14.85" height="2.25" fill="#3636f2"/><rect x="140.80" y="190.20" width="2.25" height="2.25" fill="#3024c8"/><rect x="142.60" y="190.20" width="4.05" height="2.25" fill="#3636f2"/><rect x="126.40" y="192.00" width="18.45" height="2.25" fill="#3636f2"/><rect x="144.40" y="192.00" width="2.25" height="2.25" fill="#3024c8"/><rect x="146.20" y="192.00" width="2.25" height="2.25" fill="#3636f2"/><rect x="128.20" y="193.80" width="7.65" height="2.25" fill="#3636f2"/><rect x="135.40" y="193.80" width="2.25" height="2.25" fill="#3024c8"/><rect x="137.20" y="193.80" width="4.05" height="2.25" fill="#3636f2"/><rect x="140.80" y="193.80" width="2.25" height="2.25" fill="#3024c8"/><rect x="142.60" y="193.80" width="2.25" height="2.25" fill="#3636f2"/><rect x="144.40" y="193.80" width="2.25" height="2.25" fill="#3024c8"/><rect x="131.80" y="195.60" width="9.45" height="2.25" fill="#3636f2"/><rect x="140.80" y="195.60" width="2.25" height="2.25" fill="#3024c8"/><rect x="142.60" y="195.60" width="4.05" height="2.25" fill="#3636f2"/><rect x="131.80" y="197.40" width="4.05" height="2.25" fill="#3636f2"/><rect x="137.20" y="197.40" width="4.05" height="2.25" fill="#3636f2"/><rect x="142.60" y="197.40" width="2.25" height="2.25" fill="#3024c8"/><rect x="144.40" y="197.40" width="2.25" height="2.25" fill="#3636f2"/><rect x="131.80" y="199.20" width="2.25" height="2.25" fill="#3024c8"/><rect x="135.40" y="199.20" width="2.25" height="2.25" fill="#3024c8"/><rect x="137.20" y="199.20" width="5.85" height="2.25" fill="#3636f2"/><rect x="139.00" y="201.00" width="2.25" height="2.25" fill="#3636f2"/><rect x="140.80" y="201.00" width="2.25" height="2.25" fill="#3a3aee"/><rect x="146.20" y="202.80" width="2.25" height="2.25" fill="#5a5af0"/></g></g>
<g clip-path="url(#tc7)"><rect x="48" y="225.5" width="55" height="54" fill="#cfd3cf"/><rect x="48" y="225.5" width="55" height="54" filter="url(#nd)" opacity="0.2"/><rect x="48" y="225.5" width="55" height="54" filter="url(#nl)" opacity="0.3"/><path d="M104 238 C101.5 241 101.5 247 104 250Z" fill="#222" filter="url(#bl1)"/><g filter="url(#bb2)"><rect x="72.00" y="228.70" width="2.05" height="2.05" fill="#3a3af2"/><rect x="65.60" y="230.30" width="2.05" height="2.05" fill="#3a3af2"/><rect x="68.80" y="230.30" width="3.65" height="2.05" fill="#3a3af2"/><rect x="76.80" y="230.30" width="2.05" height="2.05" fill="#3a3af2"/><rect x="88.00" y="230.30" width="2.05" height="2.05" fill="#3a3af2"/><rect x="60.80" y="231.90" width="14.85" height="2.05" fill="#3a3af2"/><rect x="76.80" y="231.90" width="11.65" height="2.05" fill="#3a3af2"/><rect x="89.60" y="231.90" width="2.05" height="2.05" fill="#3a3af2"/><rect x="60.80" y="233.50" width="2.05" height="2.05" fill="#3a3af2"/><rect x="65.60" y="233.50" width="16.45" height="2.05" fill="#3a3af2"/><rect x="83.20" y="233.50" width="2.05" height="2.05" fill="#3a3af2"/><rect x="86.40" y="233.50" width="5.25" height="2.05" fill="#3a3af2"/><rect x="60.80" y="235.10" width="10.05" height="2.05" fill="#3a3af2"/><rect x="70.40" y="235.10" width="2.05" height="2.05" fill="#28d0e8"/><rect x="72.00" y="235.10" width="3.65" height="2.05" fill="#3a3af2"/><rect x="75.20" y="235.10" width="2.05" height="2.05" fill="#28d0e8"/><rect x="76.80" y="235.10" width="14.85" height="2.05" fill="#3a3af2"/><rect x="60.80" y="236.70" width="2.05" height="2.05" fill="#3a3af2"/><rect x="64.00" y="236.70" width="2.05" height="2.05" fill="#3a3af2"/><rect x="65.60" y="236.70" width="21.25" height="2.05" fill="#28d0e8"/><rect x="86.40" y="236.70" width="5.25" height="2.05" fill="#3a3af2"/><rect x="59.20" y="238.30" width="2.05" height="2.05" fill="#3a3af2"/><rect x="62.40" y="238.30" width="3.65" height="2.05" fill="#3a3af2"/><rect x="65.60" y="238.30" width="2.05" height="2.05" fill="#28d0e8"/><rect x="67.20" y="238.30" width="18.05" height="2.05" fill="#30e040"/><rect x="84.80" y="238.30" width="2.05" height="2.05" fill="#28d0e8"/><rect x="86.40" y="238.30" width="5.25" height="2.05" fill="#3a3af2"/><rect x="59.20" y="239.90" width="5.25" height="2.05" fill="#3a3af2"/><rect x="64.00" y="239.90" width="2.05" height="2.05" fill="#28d0e8"/><rect x="65.60" y="239.90" width="19.65" height="2.05" fill="#30e040"/><rect x="84.80" y="239.90" width="2.05" height="2.05" fill="#28d0e8"/><rect x="86.40" y="239.90" width="3.65" height="2.05" fill="#3a3af2"/><rect x="91.20" y="239.90" width="2.05" height="2.05" fill="#3a3af2"/><rect x="60.80" y="241.50" width="3.65" height="2.05" fill="#3a3af2"/><rect x="64.00" y="241.50" width="3.65" height="2.05" fill="#28d0e8"/><rect x="67.20" y="241.50" width="3.65" height="2.05" fill="#30e040"/><rect x="70.40" y="241.50" width="2.05" height="2.05" fill="#e8e828"/><rect x="72.00" y="241.50" width="10.05" height="2.05" fill="#f01c1c"/><rect x="81.60" y="241.50" width="3.65" height="2.05" fill="#30e040"/><rect x="84.80" y="241.50" width="2.05" height="2.05" fill="#28d0e8"/><rect x="86.40" y="241.50" width="6.85" height="2.05" fill="#3a3af2"/><rect x="57.60" y="243.10" width="6.85" height="2.05" fill="#3a3af2"/><rect x="64.00" y="243.10" width="2.05" height="2.05" fill="#28d0e8"/><rect x="65.60" y="243.10" width="5.25" height="2.05" fill="#30e040"/><rect x="70.40" y="243.10" width="11.65" height="2.05" fill="#f01c1c"/><rect x="81.60" y="243.10" width="2.05" height="2.05" fill="#e8e828"/><rect x="83.20" y="243.10" width="2.05" height="2.05" fill="#30e040"/><rect x="84.80" y="243.10" width="3.65" height="2.05" fill="#28d0e8"/><rect x="88.00" y="243.10" width="3.65" height="2.05" fill="#3a3af2"/><rect x="57.60" y="244.70" width="6.85" height="2.05" fill="#3a3af2"/><rect x="64.00" y="244.70" width="2.05" height="2.05" fill="#28d0e8"/><rect x="65.60" y="244.70" width="6.85" height="2.05" fill="#30e040"/><rect x="72.00" y="244.70" width="10.05" height="2.05" fill="#f01c1c"/><rect x="81.60" y="244.70" width="2.05" height="2.05" fill="#e8e828"/><rect x="83.20" y="244.70" width="2.05" height="2.05" fill="#30e040"/><rect x="84.80" y="244.70" width="2.05" height="2.05" fill="#28d0e8"/><rect x="86.40" y="244.70" width="5.25" height="2.05" fill="#3a3af2"/><rect x="57.60" y="246.30" width="6.85" height="2.05" fill="#3a3af2"/><rect x="64.00" y="246.30" width="2.05" height="2.05" fill="#28d0e8"/><rect x="65.60" y="246.30" width="6.85" height="2.05" fill="#30e040"/><rect x="72.00" y="246.30" width="10.05" height="2.05" fill="#f01c1c"/><rect x="81.60" y="246.30" width="5.25" height="2.05" fill="#30e040"/><rect x="86.40" y="246.30" width="2.05" height="2.05" fill="#28d0e8"/><rect x="88.00" y="246.30" width="5.25" height="2.05" fill="#3a3af2"/><rect x="52.80" y="247.90" width="11.65" height="2.05" fill="#3a3af2"/><rect x="64.00" y="247.90" width="8.45" height="2.05" fill="#30e040"/><rect x="72.00" y="247.90" width="8.45" height="2.05" fill="#f01c1c"/><rect x="80.00" y="247.90" width="2.05" height="2.05" fill="#e8e828"/><rect x="81.60" y="247.90" width="5.25" height="2.05" fill="#30e040"/><rect x="86.40" y="247.90" width="2.05" height="2.05" fill="#28d0e8"/><rect x="88.00" y="247.90" width="3.65" height="2.05" fill="#3a3af2"/><rect x="51.20" y="249.50" width="13.25" height="2.05" fill="#3a3af2"/><rect x="64.00" y="249.50" width="2.05" height="2.05" fill="#28d0e8"/><rect x="65.60" y="249.50" width="6.85" height="2.05" fill="#30e040"/><rect x="72.00" y="249.50" width="8.45" height="2.05" fill="#f01c1c"/><rect x="80.00" y="249.50" width="5.25" height="2.05" fill="#30e040"/><rect x="84.80" y="249.50" width="3.65" height="2.05" fill="#28d0e8"/><rect x="88.00" y="249.50" width="5.25" height="2.05" fill="#3a3af2"/><rect x="54.40" y="251.10" width="8.45" height="2.05" fill="#3a3af2"/><rect x="62.40" y="251.10" width="2.05" height="2.05" fill="#28d0e8"/><rect x="64.00" y="251.10" width="6.85" height="2.05" fill="#30e040"/><rect x="70.40" y="251.10" width="2.05" height="2.05" fill="#e8e828"/><rect x="72.00" y="251.10" width="8.45" height="2.05" fill="#f01c1c"/><rect x="80.00" y="251.10" width="5.25" height="2.05" fill="#30e040"/><rect x="84.80" y="251.10" width="3.65" height="2.05" fill="#28d0e8"/><rect x="88.00" y="251.10" width="3.65" height="2.05" fill="#3a3af2"/><rect x="92.80" y="251.10" width="2.05" height="2.05" fill="#3a3af2"/><rect x="49.60" y="252.70" width="14.85" height="2.05" fill="#3a3af2"/><rect x="64.00" y="252.70" width="2.05" height="2.05" fill="#28d0e8"/><rect x="65.60" y="252.70" width="5.25" height="2.05" fill="#30e040"/><rect x="70.40" y="252.70" width="2.05" height="2.05" fill="#e8e828"/><rect x="72.00" y="252.70" width="8.45" height="2.05" fill="#f01c1c"/><rect x="80.00" y="252.70" width="2.05" height="2.05" fill="#e8e828"/><rect x="81.60" y="252.70" width="5.25" height="2.05" fill="#30e040"/><rect x="86.40" y="252.70" width="2.05" height="2.05" fill="#28d0e8"/><rect x="88.00" y="252.70" width="5.25" height="2.05" fill="#3a3af2"/><rect x="49.60" y="254.30" width="2.05" height="2.05" fill="#3a3af2"/><rect x="52.80" y="254.30" width="11.65" height="2.05" fill="#3a3af2"/><rect x="64.00" y="254.30" width="6.85" height="2.05" fill="#30e040"/><rect x="70.40" y="254.30" width="2.05" height="2.05" fill="#e8e828"/><rect x="72.00" y="254.30" width="10.05" height="2.05" fill="#f01c1c"/><rect x="81.60" y="254.30" width="5.25" height="2.05" fill="#30e040"/><rect x="86.40" y="254.30" width="2.05" height="2.05" fill="#28d0e8"/><rect x="88.00" y="254.30" width="3.65" height="2.05" fill="#3a3af2"/><rect x="49.60" y="255.90" width="14.85" height="2.05" fill="#3a3af2"/><rect x="64.00" y="255.90" width="8.45" height="2.05" fill="#30e040"/><rect x="72.00" y="255.90" width="10.05" height="2.05" fill="#f01c1c"/><rect x="81.60" y="255.90" width="2.05" height="2.05" fill="#e8e828"/><rect x="83.20" y="255.90" width="3.65" height="2.05" fill="#30e040"/><rect x="86.40" y="255.90" width="3.65" height="2.05" fill="#3a3af2"/><rect x="91.20" y="255.90" width="3.65" height="2.05" fill="#3a3af2"/><rect x="51.20" y="257.50" width="13.25" height="2.05" fill="#3a3af2"/><rect x="64.00" y="257.50" width="2.05" height="2.05" fill="#28d0e8"/><rect x="65.60" y="257.50" width="6.85" height="2.05" fill="#30e040"/><rect x="72.00" y="257.50" width="8.45" height="2.05" fill="#f01c1c"/><rect x="80.00" y="257.50" width="2.05" height="2.05" fill="#e8e828"/><rect x="81.60" y="257.50" width="5.25" height="2.05" fill="#30e040"/><rect x="86.40" y="257.50" width="6.85" height="2.05" fill="#3a3af2"/><rect x="51.20" y="259.10" width="13.25" height="2.05" fill="#3a3af2"/><rect x="64.00" y="259.10" width="11.65" height="2.05" fill="#30e040"/><rect x="75.20" y="259.10" width="2.05" height="2.05" fill="#e8e828"/><rect x="76.80" y="259.10" width="8.45" height="2.05" fill="#30e040"/><rect x="84.80" y="259.10" width="2.05" height="2.05" fill="#28d0e8"/><rect x="86.40" y="259.10" width="3.65" height="2.05" fill="#3a3af2"/><rect x="91.20" y="259.10" width="2.05" height="2.05" fill="#3a3af2"/><rect x="51.20" y="260.70" width="13.25" height="2.05" fill="#3a3af2"/><rect x="64.00" y="260.70" width="2.05" height="2.05" fill="#28d0e8"/><rect x="65.60" y="260.70" width="21.25" height="2.05" fill="#30e040"/><rect x="86.40" y="260.70" width="2.05" height="2.05" fill="#28d0e8"/><rect x="88.00" y="260.70" width="6.85" height="2.05" fill="#3a3af2"/><rect x="51.20" y="262.30" width="13.25" height="2.05" fill="#3a3af2"/><rect x="64.00" y="262.30" width="2.05" height="2.05" fill="#28d0e8"/><rect x="65.60" y="262.30" width="19.65" height="2.05" fill="#30e040"/><rect x="84.80" y="262.30" width="3.65" height="2.05" fill="#28d0e8"/><rect x="88.00" y="262.30" width="2.05" height="2.05" fill="#3a3af2"/><rect x="91.20" y="262.30" width="2.05" height="2.05" fill="#3a3af2"/><rect x="52.80" y="263.90" width="11.65" height="2.05" fill="#3a3af2"/><rect x="64.00" y="263.90" width="3.65" height="2.05" fill="#28d0e8"/><rect x="67.20" y="263.90" width="16.45" height="2.05" fill="#30e040"/><rect x="83.20" y="263.90" width="3.65" height="2.05" fill="#28d0e8"/><rect x="86.40" y="263.90" width="5.25" height="2.05" fill="#3a3af2"/><rect x="92.80" y="263.90" width="2.05" height="2.05" fill="#3a3af2"/><rect x="52.80" y="265.50" width="13.25" height="2.05" fill="#3a3af2"/><rect x="65.60" y="265.50" width="2.05" height="2.05" fill="#28d0e8"/><rect x="67.20" y="265.50" width="14.85" height="2.05" fill="#30e040"/><rect x="81.60" y="265.50" width="3.65" height="2.05" fill="#28d0e8"/><rect x="84.80" y="265.50" width="6.85" height="2.05" fill="#3a3af2"/><rect x="52.80" y="267.10" width="13.25" height="2.05" fill="#3a3af2"/><rect x="65.60" y="267.10" width="3.65" height="2.05" fill="#28d0e8"/><rect x="68.80" y="267.10" width="11.65" height="2.05" fill="#30e040"/><rect x="80.00" y="267.10" width="3.65" height="2.05" fill="#28d0e8"/><rect x="83.20" y="267.10" width="5.25" height="2.05" fill="#3a3af2"/><rect x="91.20" y="267.10" width="2.05" height="2.05" fill="#3a3af2"/><rect x="56.00" y="268.70" width="11.65" height="2.05" fill="#3a3af2"/><rect x="67.20" y="268.70" width="8.45" height="2.05" fill="#28d0e8"/><rect x="75.20" y="268.70" width="2.05" height="2.05" fill="#30e040"/><rect x="76.80" y="268.70" width="5.25" height="2.05" fill="#28d0e8"/><rect x="81.60" y="268.70" width="10.05" height="2.05" fill="#3a3af2"/><rect x="54.40" y="270.30" width="37.25" height="2.05" fill="#3a3af2"/><rect x="57.60" y="271.90" width="30.85" height="2.05" fill="#3a3af2"/><rect x="59.20" y="273.50" width="3.65" height="2.05" fill="#3a3af2"/><rect x="64.00" y="273.50" width="21.25" height="2.05" fill="#3a3af2"/><rect x="86.40" y="273.50" width="3.65" height="2.05" fill="#3a3af2"/><rect x="62.40" y="275.10" width="13.25" height="2.05" fill="#3a3af2"/><rect x="76.80" y="275.10" width="2.05" height="2.05" fill="#3a3af2"/><rect x="80.00" y="275.10" width="2.05" height="2.05" fill="#3a3af2"/><rect x="60.80" y="276.70" width="2.05" height="2.05" fill="#3a3af2"/><rect x="64.00" y="276.70" width="3.65" height="2.05" fill="#3a3af2"/><rect x="70.40" y="276.70" width="2.05" height="2.05" fill="#3a3af2"/><rect x="73.60" y="276.70" width="2.05" height="2.05" fill="#3a3af2"/><rect x="76.80" y="276.70" width="2.05" height="2.05" fill="#3a3af2"/><rect x="80.00" y="276.70" width="2.05" height="2.05" fill="#3a3af2"/><rect x="64.00" y="278.30" width="3.65" height="2.05" fill="#3a3af2"/><rect x="78.40" y="278.30" width="2.05" height="2.05" fill="#3a3af2"/></g></g>
<g clip-path="url(#tc8)"><rect x="112" y="225.5" width="54" height="54" fill="#b3bbb9"/><ellipse cx="118" cy="256" rx="9" ry="26" fill="#86908e" filter="url(#bl3)"/><ellipse cx="158" cy="262" rx="8" ry="16" fill="#c8d0ce" filter="url(#bl3)"/><ellipse cx="150" cy="232" rx="14" ry="7" fill="#c4cccc" filter="url(#bl3)"/><rect x="112" y="225.5" width="54" height="54" filter="url(#nd)" opacity="0.25"/><rect x="112" y="225.5" width="54" height="54" filter="url(#nl)" opacity="0.3"/><g filter="url(#bb2)"><rect x="134.40" y="236.70" width="2.05" height="2.05" fill="#6040e6"/><rect x="131.20" y="238.30" width="5.25" height="2.05" fill="#6040e6"/><rect x="136.00" y="238.30" width="2.05" height="2.05" fill="#6a4ce8"/><rect x="137.60" y="238.30" width="3.65" height="2.05" fill="#6040e6"/><rect x="129.60" y="239.90" width="3.65" height="2.05" fill="#6040e6"/><rect x="136.00" y="239.90" width="5.25" height="2.05" fill="#6040e6"/><rect x="132.80" y="241.50" width="11.65" height="2.05" fill="#6040e6"/><rect x="128.00" y="243.10" width="3.65" height="2.05" fill="#6040e6"/><rect x="131.20" y="243.10" width="2.05" height="2.05" fill="#6a4ce8"/><rect x="132.80" y="243.10" width="6.85" height="2.05" fill="#6040e6"/><rect x="139.20" y="243.10" width="2.05" height="2.05" fill="#4a3cf0"/><rect x="129.60" y="244.70" width="2.05" height="2.05" fill="#6a4ce8"/><rect x="131.20" y="244.70" width="10.05" height="2.05" fill="#4a3cf0"/><rect x="140.80" y="244.70" width="3.65" height="2.05" fill="#6040e6"/><rect x="126.40" y="246.30" width="3.65" height="2.05" fill="#6040e6"/><rect x="129.60" y="246.30" width="11.65" height="2.05" fill="#4a3cf0"/><rect x="140.80" y="246.30" width="5.25" height="2.05" fill="#6040e6"/><rect x="126.40" y="247.90" width="3.65" height="2.05" fill="#6040e6"/><rect x="129.60" y="247.90" width="13.25" height="2.05" fill="#4a3cf0"/><rect x="142.40" y="247.90" width="3.65" height="2.05" fill="#6040e6"/><rect x="123.20" y="249.50" width="6.85" height="2.05" fill="#6040e6"/><rect x="129.60" y="249.50" width="14.85" height="2.05" fill="#4a3cf0"/><rect x="144.00" y="249.50" width="2.05" height="2.05" fill="#6040e6"/><rect x="121.60" y="251.10" width="8.45" height="2.05" fill="#6040e6"/><rect x="129.60" y="251.10" width="5.25" height="2.05" fill="#4a3cf0"/><rect x="134.40" y="251.10" width="5.25" height="2.05" fill="#3a70f0"/><rect x="139.20" y="251.10" width="5.25" height="2.05" fill="#4a3cf0"/><rect x="144.00" y="251.10" width="2.05" height="2.05" fill="#6040e6"/><rect x="147.20" y="251.10" width="2.05" height="2.05" fill="#6040e6"/><rect x="126.40" y="252.70" width="2.05" height="2.05" fill="#6a4ce8"/><rect x="128.00" y="252.70" width="2.05" height="2.05" fill="#6040e6"/><rect x="129.60" y="252.70" width="5.25" height="2.05" fill="#4a3cf0"/><rect x="134.40" y="252.70" width="2.05" height="2.05" fill="#3a70f0"/><rect x="136.00" y="252.70" width="3.65" height="2.05" fill="#30c8f0"/><rect x="139.20" y="252.70" width="2.05" height="2.05" fill="#3a70f0"/><rect x="140.80" y="252.70" width="3.65" height="2.05" fill="#4a3cf0"/><rect x="144.00" y="252.70" width="3.65" height="2.05" fill="#6040e6"/><rect x="129.60" y="254.30" width="5.25" height="2.05" fill="#4a3cf0"/><rect x="134.40" y="254.30" width="2.05" height="2.05" fill="#3a70f0"/><rect x="136.00" y="254.30" width="3.65" height="2.05" fill="#30c8f0"/><rect x="139.20" y="254.30" width="2.05" height="2.05" fill="#3a70f0"/><rect x="140.80" y="254.30" width="3.65" height="2.05" fill="#4a3cf0"/><rect x="144.00" y="254.30" width="3.65" height="2.05" fill="#6040e6"/><rect x="124.80" y="255.90" width="5.25" height="2.05" fill="#6040e6"/><rect x="129.60" y="255.90" width="5.25" height="2.05" fill="#4a3cf0"/><rect x="134.40" y="255.90" width="2.05" height="2.05" fill="#3a70f0"/><rect x="136.00" y="255.90" width="2.05" height="2.05" fill="#30c8f0"/><rect x="137.60" y="255.90" width="2.05" height="2.05" fill="#3a70f0"/><rect x="139.20" y="255.90" width="5.25" height="2.05" fill="#4a3cf0"/><rect x="144.00" y="255.90" width="3.65" height="2.05" fill="#6040e6"/><rect x="128.00" y="257.50" width="3.65" height="2.05" fill="#6040e6"/><rect x="131.20" y="257.50" width="5.25" height="2.05" fill="#4a3cf0"/><rect x="136.00" y="257.50" width="2.05" height="2.05" fill="#3a70f0"/><rect x="137.60" y="257.50" width="6.85" height="2.05" fill="#4a3cf0"/><rect x="144.00" y="257.50" width="2.05" height="2.05" fill="#6040e6"/><rect x="128.00" y="259.10" width="6.85" height="2.05" fill="#6040e6"/><rect x="134.40" y="259.10" width="6.85" height="2.05" fill="#4a3cf0"/><rect x="140.80" y="259.10" width="5.25" height="2.05" fill="#6040e6"/><rect x="131.20" y="260.70" width="13.25" height="2.05" fill="#6040e6"/><rect x="132.80" y="262.30" width="2.05" height="2.05" fill="#6040e6"/><rect x="136.00" y="262.30" width="8.45" height="2.05" fill="#6040e6"/><rect x="131.20" y="263.90" width="3.65" height="2.05" fill="#6040e6"/></g></g>
<g clip-path="url(#tc9)"><rect x="48" y="286" width="55" height="54" fill="#d1d5d1"/><ellipse cx="52" cy="320" rx="5" ry="20" fill="#e2e4e2" filter="url(#bl2)"/><rect x="48" y="286" width="55" height="54" filter="url(#nd)" opacity="0.2"/><rect x="48" y="286" width="55" height="54" filter="url(#nl)" opacity="0.3"/><path d="M100.6 286 L104 286 L104 320 L102.5 319.5 C100.5 316 98.5 312 97 308 C95.6 304 95.2 301 95.8 297.5 C97 293 99.2 289 100.6 286 Z" fill="#080808" filter="url(#bb2)"/><g filter="url(#bb2)"><rect x="70.40" y="292.40" width="2.05" height="2.05" fill="#3a3af2"/><rect x="75.20" y="292.40" width="2.05" height="2.05" fill="#3a3af2"/><rect x="65.60" y="294.00" width="11.65" height="2.05" fill="#3a3af2"/><rect x="78.40" y="294.00" width="10.05" height="2.05" fill="#3a3af2"/><rect x="64.00" y="295.60" width="16.45" height="2.05" fill="#3a3af2"/><rect x="80.00" y="295.60" width="2.05" height="2.05" fill="#28d0e8"/><rect x="81.60" y="295.60" width="8.45" height="2.05" fill="#3a3af2"/><rect x="64.00" y="297.20" width="6.85" height="2.05" fill="#3a3af2"/><rect x="70.40" y="297.20" width="18.05" height="2.05" fill="#28d0e8"/><rect x="88.00" y="297.20" width="5.25" height="2.05" fill="#3a3af2"/><rect x="62.40" y="298.80" width="8.45" height="2.05" fill="#3a3af2"/><rect x="70.40" y="298.80" width="6.85" height="2.05" fill="#28d0e8"/><rect x="76.80" y="298.80" width="5.25" height="2.05" fill="#30e040"/><rect x="81.60" y="298.80" width="8.45" height="2.05" fill="#28d0e8"/><rect x="89.60" y="298.80" width="2.05" height="2.05" fill="#3a3af2"/><rect x="62.40" y="300.40" width="2.05" height="2.05" fill="#3a3af2"/><rect x="65.60" y="300.40" width="3.65" height="2.05" fill="#3a3af2"/><rect x="68.80" y="300.40" width="3.65" height="2.05" fill="#28d0e8"/><rect x="72.00" y="300.40" width="16.45" height="2.05" fill="#30e040"/><rect x="88.00" y="300.40" width="3.65" height="2.05" fill="#28d0e8"/><rect x="91.20" y="300.40" width="2.05" height="2.05" fill="#3a3af2"/><rect x="64.00" y="302.00" width="5.25" height="2.05" fill="#3a3af2"/><rect x="68.80" y="302.00" width="3.65" height="2.05" fill="#28d0e8"/><rect x="72.00" y="302.00" width="16.45" height="2.05" fill="#30e040"/><rect x="88.00" y="302.00" width="3.65" height="2.05" fill="#28d0e8"/><rect x="60.80" y="303.60" width="6.85" height="2.05" fill="#3a3af2"/><rect x="67.20" y="303.60" width="3.65" height="2.05" fill="#28d0e8"/><rect x="70.40" y="303.60" width="3.65" height="2.05" fill="#30e040"/><rect x="73.60" y="303.60" width="13.25" height="2.05" fill="#e8e828"/><rect x="86.40" y="303.60" width="2.05" height="2.05" fill="#30e040"/><rect x="88.00" y="303.60" width="5.25" height="2.05" fill="#28d0e8"/><rect x="62.40" y="305.20" width="5.25" height="2.05" fill="#3a3af2"/><rect x="67.20" y="305.20" width="5.25" height="2.05" fill="#28d0e8"/><rect x="72.00" y="305.20" width="2.05" height="2.05" fill="#30e040"/><rect x="73.60" y="305.20" width="2.05" height="2.05" fill="#e8e828"/><rect x="75.20" y="305.20" width="10.05" height="2.05" fill="#f01c1c"/><rect x="84.80" y="305.20" width="2.05" height="2.05" fill="#e8e828"/><rect x="86.40" y="305.20" width="2.05" height="2.05" fill="#30e040"/><rect x="88.00" y="305.20" width="3.65" height="2.05" fill="#28d0e8"/><rect x="59.20" y="306.80" width="2.05" height="2.05" fill="#3a3af2"/><rect x="64.00" y="306.80" width="3.65" height="2.05" fill="#3a3af2"/><rect x="67.20" y="306.80" width="3.65" height="2.05" fill="#28d0e8"/><rect x="70.40" y="306.80" width="3.65" height="2.05" fill="#30e040"/><rect x="73.60" y="306.80" width="13.25" height="2.05" fill="#f01c1c"/><rect x="86.40" y="306.80" width="2.05" height="2.05" fill="#30e040"/><rect x="88.00" y="306.80" width="3.65" height="2.05" fill="#28d0e8"/><rect x="91.20" y="306.80" width="2.05" height="2.05" fill="#3a3af2"/><rect x="59.20" y="308.40" width="8.45" height="2.05" fill="#3a3af2"/><rect x="67.20" y="308.40" width="3.65" height="2.05" fill="#28d0e8"/><rect x="70.40" y="308.40" width="3.65" height="2.05" fill="#30e040"/><rect x="73.60" y="308.40" width="2.05" height="2.05" fill="#e8e828"/><rect x="75.20" y="308.40" width="11.65" height="2.05" fill="#f01c1c"/><rect x="86.40" y="308.40" width="2.05" height="2.05" fill="#30e040"/><rect x="88.00" y="308.40" width="3.65" height="2.05" fill="#28d0e8"/><rect x="91.20" y="308.40" width="2.05" height="2.05" fill="#3a3af2"/><rect x="60.80" y="310.00" width="6.85" height="2.05" fill="#3a3af2"/><rect x="67.20" y="310.00" width="3.65" height="2.05" fill="#28d0e8"/><rect x="70.40" y="310.00" width="3.65" height="2.05" fill="#30e040"/><rect x="73.60" y="310.00" width="2.05" height="2.05" fill="#e8e828"/><rect x="75.20" y="310.00" width="11.65" height="2.05" fill="#f01c1c"/><rect x="86.40" y="310.00" width="3.65" height="2.05" fill="#30e040"/><rect x="89.60" y="310.00" width="2.05" height="2.05" fill="#28d0e8"/><rect x="91.20" y="310.00" width="2.05" height="2.05" fill="#3a3af2"/><rect x="59.20" y="311.60" width="8.45" height="2.05" fill="#3a3af2"/><rect x="67.20" y="311.60" width="3.65" height="2.05" fill="#28d0e8"/><rect x="70.40" y="311.60" width="5.25" height="2.05" fill="#30e040"/><rect x="75.20" y="311.60" width="11.65" height="2.05" fill="#f01c1c"/><rect x="86.40" y="311.60" width="2.05" height="2.05" fill="#30e040"/><rect x="88.00" y="311.60" width="3.65" height="2.05" fill="#28d0e8"/><rect x="91.20" y="311.60" width="2.05" height="2.05" fill="#3a3af2"/><rect x="59.20" y="313.20" width="8.45" height="2.05" fill="#3a3af2"/><rect x="67.20" y="313.20" width="3.65" height="2.05" fill="#28d0e8"/><rect x="70.40" y="313.20" width="5.25" height="2.05" fill="#30e040"/><rect x="75.20" y="313.20" width="2.05" height="2.05" fill="#e8e828"/><rect x="76.80" y="313.20" width="8.45" height="2.05" fill="#f01c1c"/><rect x="84.80" y="313.20" width="2.05" height="2.05" fill="#e8e828"/><rect x="86.40" y="313.20" width="3.65" height="2.05" fill="#30e040"/><rect x="89.60" y="313.20" width="2.05" height="2.05" fill="#28d0e8"/><rect x="59.20" y="314.80" width="2.05" height="2.05" fill="#3a3af2"/><rect x="62.40" y="314.80" width="6.85" height="2.05" fill="#3a3af2"/><rect x="68.80" y="314.80" width="3.65" height="2.05" fill="#28d0e8"/><rect x="72.00" y="314.80" width="5.25" height="2.05" fill="#30e040"/><rect x="76.80" y="314.80" width="10.05" height="2.05" fill="#f01c1c"/><rect x="86.40" y="314.80" width="2.05" height="2.05" fill="#30e040"/><rect x="88.00" y="314.80" width="3.65" height="2.05" fill="#28d0e8"/><rect x="91.20" y="314.80" width="2.05" height="2.05" fill="#3a3af2"/><rect x="57.60" y="316.40" width="2.05" height="2.05" fill="#3a3af2"/><rect x="60.80" y="316.40" width="8.45" height="2.05" fill="#3a3af2"/><rect x="68.80" y="316.40" width="5.25" height="2.05" fill="#28d0e8"/><rect x="73.60" y="316.40" width="5.25" height="2.05" fill="#30e040"/><rect x="78.40" y="316.40" width="6.85" height="2.05" fill="#f01c1c"/><rect x="84.80" y="316.40" width="2.05" height="2.05" fill="#e8e828"/><rect x="86.40" y="316.40" width="2.05" height="2.05" fill="#30e040"/><rect x="88.00" y="316.40" width="3.65" height="2.05" fill="#28d0e8"/><rect x="59.20" y="318.00" width="11.65" height="2.05" fill="#3a3af2"/><rect x="70.40" y="318.00" width="3.65" height="2.05" fill="#28d0e8"/><rect x="73.60" y="318.00" width="6.85" height="2.05" fill="#30e040"/><rect x="80.00" y="318.00" width="2.05" height="2.05" fill="#e8e828"/><rect x="81.60" y="318.00" width="2.05" height="2.05" fill="#f01c1c"/><rect x="83.20" y="318.00" width="2.05" height="2.05" fill="#e8e828"/><rect x="84.80" y="318.00" width="3.65" height="2.05" fill="#30e040"/><rect x="88.00" y="318.00" width="2.05" height="2.05" fill="#28d0e8"/><rect x="89.60" y="318.00" width="3.65" height="2.05" fill="#3a3af2"/><rect x="62.40" y="319.60" width="6.85" height="2.05" fill="#3a3af2"/><rect x="68.80" y="319.60" width="5.25" height="2.05" fill="#28d0e8"/><rect x="73.60" y="319.60" width="13.25" height="2.05" fill="#30e040"/><rect x="86.40" y="319.60" width="3.65" height="2.05" fill="#28d0e8"/><rect x="89.60" y="319.60" width="2.05" height="2.05" fill="#3a3af2"/><rect x="64.00" y="321.20" width="6.85" height="2.05" fill="#3a3af2"/><rect x="70.40" y="321.20" width="5.25" height="2.05" fill="#28d0e8"/><rect x="75.20" y="321.20" width="11.65" height="2.05" fill="#30e040"/><rect x="86.40" y="321.20" width="3.65" height="2.05" fill="#28d0e8"/><rect x="64.00" y="322.80" width="6.85" height="2.05" fill="#3a3af2"/><rect x="70.40" y="322.80" width="8.45" height="2.05" fill="#28d0e8"/><rect x="78.40" y="322.80" width="3.65" height="2.05" fill="#30e040"/><rect x="81.60" y="322.80" width="8.45" height="2.05" fill="#28d0e8"/><rect x="60.80" y="324.40" width="10.05" height="2.05" fill="#3a3af2"/><rect x="70.40" y="324.40" width="16.45" height="2.05" fill="#28d0e8"/><rect x="86.40" y="324.40" width="5.25" height="2.05" fill="#3a3af2"/><rect x="62.40" y="326.00" width="2.05" height="2.05" fill="#3a3af2"/><rect x="65.60" y="326.00" width="6.85" height="2.05" fill="#3a3af2"/><rect x="72.00" y="326.00" width="13.25" height="2.05" fill="#28d0e8"/><rect x="84.80" y="326.00" width="5.25" height="2.05" fill="#3a3af2"/><rect x="64.00" y="327.60" width="10.05" height="2.05" fill="#3a3af2"/><rect x="73.60" y="327.60" width="11.65" height="2.05" fill="#28d0e8"/><rect x="84.80" y="327.60" width="6.85" height="2.05" fill="#3a3af2"/><rect x="65.60" y="329.20" width="10.05" height="2.05" fill="#3a3af2"/><rect x="75.20" y="329.20" width="8.45" height="2.05" fill="#28d0e8"/><rect x="84.80" y="329.20" width="2.05" height="2.05" fill="#3a3af2"/><rect x="88.00" y="329.20" width="2.05" height="2.05" fill="#3a3af2"/><rect x="65.60" y="330.80" width="18.05" height="2.05" fill="#3a3af2"/><rect x="88.00" y="330.80" width="2.05" height="2.05" fill="#3a3af2"/><rect x="67.20" y="332.40" width="2.05" height="2.05" fill="#3a3af2"/><rect x="72.00" y="332.40" width="10.05" height="2.05" fill="#3a3af2"/><rect x="83.20" y="332.40" width="2.05" height="2.05" fill="#3a3af2"/><rect x="72.00" y="334.00" width="3.65" height="2.05" fill="#3a3af2"/><rect x="76.80" y="334.00" width="2.05" height="2.05" fill="#3a3af2"/><rect x="83.20" y="334.00" width="2.05" height="2.05" fill="#3a3af2"/></g></g>
<g clip-path="url(#tc10)"><rect x="112" y="286" width="54" height="54" fill="#d6dbd8"/><path d="M112 286 L124 286 C123 300 122.5 320 121 340 L112 340Z" fill="#4a5654" filter="url(#bl1)"/><path d="M112 286 L117 286 C116 300 116 320 115 340 L112 340Z" fill="#1c2424" filter="url(#bl1)"/><path d="M119 300 C115 306 114 316 117 324 M121 296 C118 304 118 312 120 318" stroke="#2a3232" stroke-width="1.2" fill="none" opacity="0.6" filter="url(#bb)"/><rect x="112" y="286" width="54" height="54" filter="url(#nd)" opacity="0.225"/><rect x="112" y="286" width="54" height="54" filter="url(#nl)" opacity="0.3"/><g filter="url(#bb2)"><rect x="135.40" y="302.20" width="5.85" height="2.25" fill="#3434f2"/><rect x="133.60" y="304.00" width="14.85" height="2.25" fill="#3434f2"/><rect x="131.80" y="305.80" width="9.45" height="2.25" fill="#3434f2"/><rect x="142.60" y="305.80" width="4.05" height="2.25" fill="#3434f2"/><rect x="131.80" y="307.60" width="14.85" height="2.25" fill="#3434f2"/><rect x="131.80" y="309.40" width="14.85" height="2.25" fill="#3434f2"/><rect x="133.60" y="311.20" width="13.05" height="2.25" fill="#3434f2"/><rect x="133.60" y="313.00" width="4.05" height="2.25" fill="#3434f2"/><rect x="137.20" y="313.00" width="4.05" height="2.25" fill="#3a78f0"/><rect x="140.80" y="313.00" width="7.65" height="2.25" fill="#3434f2"/><rect x="130.00" y="314.80" width="2.25" height="2.25" fill="#3434f2"/><rect x="133.60" y="314.80" width="4.05" height="2.25" fill="#3434f2"/><rect x="137.20" y="314.80" width="4.05" height="2.25" fill="#3a78f0"/><rect x="140.80" y="314.80" width="4.05" height="2.25" fill="#3434f2"/><rect x="146.20" y="314.80" width="2.25" height="2.25" fill="#3434f2"/><rect x="131.80" y="316.60" width="14.85" height="2.25" fill="#3434f2"/><rect x="130.00" y="318.40" width="16.65" height="2.25" fill="#3434f2"/><rect x="126.40" y="320.20" width="20.25" height="2.25" fill="#3434f2"/><rect x="128.20" y="322.00" width="2.25" height="2.25" fill="#3434f2"/><rect x="131.80" y="322.00" width="7.65" height="2.25" fill="#3434f2"/><rect x="140.80" y="322.00" width="2.25" height="2.25" fill="#3434f2"/><rect x="139.00" y="323.80" width="2.25" height="2.25" fill="#3434f2"/></g><rect x="162.5" y="320" width="1.8" height="1.8" fill="#3a3af2"/><rect x="162" y="331" width="1.8" height="1.8" fill="#3a3af2"/></g>
<defs><linearGradient id="cbar" x1="0" y1="0" x2="0" y2="1"><stop offset="0" stop-color="#e01e30"/><stop offset="0.05" stop-color="#e82828"/><stop offset="0.09" stop-color="#ee4a28"/><stop offset="0.125" stop-color="#f07a2a"/><stop offset="0.17" stop-color="#f0a82a"/><stop offset="0.21" stop-color="#f0e82a"/><stop offset="0.265" stop-color="#c8f030"/><stop offset="0.36" stop-color="#80e830"/><stop offset="0.44" stop-color="#40e030"/><stop offset="0.56" stop-color="#30dc50"/><stop offset="0.62" stop-color="#30e080"/><stop offset="0.67" stop-color="#30e0b0"/><stop offset="0.72" stop-color="#30d8e0"/><stop offset="0.76" stop-color="#30c0f0"/><stop offset="0.8" stop-color="#3090f0"/><stop offset="0.85" stop-color="#3060f0"/><stop offset="0.9" stop-color="#3040f0"/><stop offset="0.95" stop-color="#3828ee"/><stop offset="1.0" stop-color="#4020e0"/></linearGradient></defs>
<rect x="176" y="86" width="5.5" height="203.5" fill="url(#cbar)" stroke="#000" stroke-width="1"/>
<path d="M181.5 87.20h6 M181.5 92.24h3 M181.5 97.28h3 M181.5 102.32h3 M181.5 107.36h3 M181.5 112.40h5 M181.5 117.44h3 M181.5 122.48h3 M181.5 127.52h3 M181.5 132.56h3 M181.5 137.60h6 M181.5 142.64h3 M181.5 147.68h3 M181.5 152.72h3 M181.5 157.76h3 M181.5 162.80h5 M181.5 167.84h3 M181.5 172.88h3 M181.5 177.92h3 M181.5 182.96h3 M181.5 188.00h6 M181.5 193.04h3 M181.5 198.08h3 M181.5 203.12h3 M181.5 208.16h3 M181.5 213.20h5 M181.5 218.24h3 M181.5 223.28h3 M181.5 228.32h3 M181.5 233.36h3 M181.5 238.40h6 M181.5 243.44h3 M181.5 248.48h3 M181.5 253.52h3 M181.5 258.56h3 M181.5 263.60h5 M181.5 268.64h3 M181.5 273.68h3 M181.5 278.72h3 M181.5 283.76h3 M181.5 288.80h6" stroke="#000" stroke-width="1" fill="none"/>
<text x="189.8" y="90.2" font-size="8.3" font-weight="normal" text-anchor="start" >50 000</text>
<text x="189.8" y="140.6" font-size="8.3" font-weight="normal" text-anchor="start" >40 000</text>
<text x="189.8" y="191.0" font-size="8.3" font-weight="normal" text-anchor="start" >30 000</text>
<text x="189.8" y="241.39999999999998" font-size="8.3" font-weight="normal" text-anchor="start" >20 000</text>
<text x="189.8" y="291.8" font-size="8.3" font-weight="normal" text-anchor="start" >10 000</text>
<text x="176" y="304" font-size="8.3">p/s/cm<tspan font-size="5.5" dy="-3">2</tspan><tspan dy="3">/sr</tspan></text>
<path d="M321.4 30.15H518.9V173.65" stroke="#000" stroke-width="1.3" fill="none"/>
<path d="M325.4 30.15V173.65" stroke="#000" stroke-width="1.6" fill="none"/>
<path d="M321.4 169.55H518.9" stroke="#000" stroke-width="1.6" fill="none"/>
<path d="M321.4 169.55h4 M321.4 152.12h4 M321.4 134.70h4 M321.4 117.28h4 M321.4 99.85h4 M321.4 82.43h4 M321.4 65.00h4 M321.4 47.58h4 M321.4 30.15h4" stroke="#000" stroke-width="1.8" fill="none"/>
<path d="M364.25 169.55v4.1 M403.10 169.55v4.1 M441.95 169.55v4.1 M480.80 169.55v4.1" stroke="#000" stroke-width="1.5" fill="none"/>
<text x="318.8" y="172.95000000000002" font-size="8.7" font-weight="normal" text-anchor="end" class="tk">0</text>
<text x="318.8" y="155.525" font-size="8.7" font-weight="normal" text-anchor="end" class="tk">50 000</text>
<text x="318.8" y="138.10000000000002" font-size="8.7" font-weight="normal" text-anchor="end" class="tk">100 000</text>
<text x="318.8" y="120.67500000000001" font-size="8.7" font-weight="normal" text-anchor="end" class="tk">150 000</text>
<text x="318.8" y="103.25000000000001" font-size="8.7" font-weight="normal" text-anchor="end" class="tk">200 000</text>
<text x="318.8" y="85.82500000000002" font-size="8.7" font-weight="normal" text-anchor="end" class="tk">250 000</text>
<text x="318.8" y="68.4" font-size="8.7" font-weight="normal" text-anchor="end" class="tk">300 000</text>
<text x="318.8" y="50.975" font-size="8.7" font-weight="normal" text-anchor="end" class="tk">350 000</text>
<text x="318.8" y="33.550000000000004" font-size="8.7" font-weight="normal" text-anchor="end" class="tk">400 000</text>
<path d="M345.20 155.50 C351.60 155.78 370.70 159.12 383.60 157.20 C396.50 155.28 409.63 145.75 422.60 144.00 C435.57 142.25 448.48 146.70 461.40 146.70 C474.32 146.70 493.65 144.45 500.10 144.00" stroke="#000" stroke-width="1.75" fill="none"/>
<path d="M461.4 143.2v7.0M458.59999999999997 143.2h5.6M458.59999999999997 150.2h5.6" stroke="#000" stroke-width="1.25" fill="none"/>
<path d="M500.1 138.0v12M497.3 138.0h5.6M497.3 150.0h5.6" stroke="#000" stroke-width="1.25" fill="none"/>
<circle cx="345.2" cy="155.5" r="3.1" fill="#000"/>
<circle cx="383.6" cy="157.2" r="3.1" fill="#000"/>
<circle cx="422.6" cy="144.0" r="3.1" fill="#000"/>
<circle cx="461.4" cy="146.7" r="3.1" fill="#000"/>
<circle cx="500.1" cy="144.0" r="3.1" fill="#000"/>
<path d="M345.20 153.40 C351.60 153.17 370.73 156.75 383.60 152.00 C396.47 147.25 409.43 138.87 422.40 124.90 C435.37 110.93 448.45 77.30 461.40 68.20 C474.35 59.10 493.65 69.95 500.10 70.30" stroke="#000" stroke-width="1.75" fill="none"/>
<path d="M422.4 121.4v7.0M419.59999999999997 121.4h5.6M419.59999999999997 128.4h5.6" stroke="#000" stroke-width="1.25" fill="none"/>
<path d="M461.4 55.900000000000006v24.6M458.59999999999997 55.900000000000006h5.6M458.59999999999997 80.5h5.6" stroke="#000" stroke-width="1.25" fill="none"/>
<path d="M500.1 52.3v36M497.3 52.3h5.6M497.3 88.3h5.6" stroke="#000" stroke-width="1.25" fill="none"/>
<rect x="342.0" y="150.20000000000002" width="6.4" height="6.4" fill="#000"/>
<rect x="380.40000000000003" y="148.8" width="6.4" height="6.4" fill="#000"/>
<rect x="419.2" y="121.7" width="6.4" height="6.4" fill="#000"/>
<rect x="458.2" y="65.0" width="6.4" height="6.4" fill="#000"/>
<rect x="496.90000000000003" y="67.1" width="6.4" height="6.4" fill="#000"/>
<rect x="353" y="16.6" width="58.6" height="30.3" fill="#fff" stroke="#000" stroke-width="1.3"/>
<path d="M358.8 25.400000000000002h16.7M358.8 37.7h16.7" stroke="#000" stroke-width="1.4"/>
<circle cx="367.3" cy="25.400000000000002" r="3" fill="#000"/>
<rect x="364.3" y="34.7" width="6" height="6" fill="#000"/>
<text x="380.6" y="28.400000000000002" font-size="8.4" font-weight="normal" text-anchor="start" >DEX</text>
<text x="380.6" y="40.7" font-size="8.4" font-weight="normal" text-anchor="start" >Saline</text>
<text x="422.5" y="199.5" font-size="11" font-weight="normal" text-anchor="middle" >Time after Wound (d)</text>
<text x="344.85" y="183.7" font-size="8.2" font-weight="bold" text-anchor="middle" >0</text>
<text x="383.75" y="183.7" font-size="8.2" font-weight="bold" text-anchor="middle" >1</text>
<text x="422.65" y="183.7" font-size="8.2" font-weight="bold" text-anchor="middle" >4</text>
<text x="461.55" y="183.7" font-size="8.2" font-weight="bold" text-anchor="middle" >7</text>
<text x="500.45" y="183.7" font-size="8.2" font-weight="bold" text-anchor="middle" >10</text>
<text transform="translate(273.6 100.5) rotate(-90)" font-size="11" text-anchor="middle">Luciferase Activity (photons/s)</text>
<path d="M321.4 233.4H519.1V373.65000000000003" stroke="#000" stroke-width="1.3" fill="none"/>
<path d="M325.4 233.4V373.65000000000003" stroke="#000" stroke-width="1.6" fill="none"/>
<path d="M321.4 369.55H519.1" stroke="#000" stroke-width="1.6" fill="none"/>
<path d="M321.4 369.55h4 M321.4 350.10h4 M321.4 330.65h4 M321.4 311.20h4 M321.4 291.75h4 M321.4 272.30h4 M321.4 252.85h4 M321.4 233.40h4" stroke="#000" stroke-width="1.8" fill="none"/>
<path d="M364.25 369.55v4.1 M403.10 369.55v4.1 M441.95 369.55v4.1 M480.80 369.55v4.1" stroke="#000" stroke-width="1.5" fill="none"/>
<text x="318.4" y="373.65" font-size="8.7" font-weight="normal" text-anchor="end" class="tk">0</text>
<text x="318.4" y="354.2" font-size="8.7" font-weight="normal" text-anchor="end" class="tk">20</text>
<text x="318.4" y="334.75" font-size="8.7" font-weight="normal" text-anchor="end" class="tk">40</text>
<text x="318.4" y="315.29999999999995" font-size="8.7" font-weight="normal" text-anchor="end" class="tk">60</text>
<text x="318.4" y="295.84999999999997" font-size="8.7" font-weight="normal" text-anchor="end" class="tk">80</text>
<text x="318.4" y="276.4" font-size="8.7" font-weight="normal" text-anchor="end" class="tk">100</text>
<text x="318.4" y="256.95" font-size="8.7" font-weight="normal" text-anchor="end" class="tk">120</text>
<text x="318.4" y="237.5" font-size="8.7" font-weight="normal" text-anchor="end" class="tk">140</text>
<path d="M345.20 272.80 C351.48 268.92 370.03 246.85 382.90 249.50 C395.77 252.15 409.35 280.02 422.40 288.70 C435.45 297.38 448.30 294.22 461.20 301.60 C474.10 308.98 493.37 327.77 499.80 333.00" stroke="#000" stroke-width="1.75" fill="none"/>
<path d="M382.9 242.1v14.8M380.09999999999997 242.1h5.6M380.09999999999997 256.9h5.6" stroke="#000" stroke-width="1.25" fill="none"/>
<path d="M422.4 282.0v13.4M419.59999999999997 282.0h5.6M419.59999999999997 295.4h5.6" stroke="#000" stroke-width="1.25" fill="none"/>
<path d="M461.2 295.8v11.6M458.4 295.8h5.6M458.4 307.40000000000003h5.6" stroke="#000" stroke-width="1.25" fill="none"/>
<path d="M499.8 328.0v10M497.0 328.0h5.6M497.0 338.0h5.6" stroke="#000" stroke-width="1.25" fill="none"/>
<circle cx="345.2" cy="272.8" r="3.1" fill="#000"/>
<circle cx="382.9" cy="249.5" r="3.1" fill="#000"/>
<circle cx="422.4" cy="288.7" r="3.1" fill="#000"/>
<circle cx="461.2" cy="301.6" r="3.1" fill="#000"/>
<circle cx="499.8" cy="333.0" r="3.1" fill="#000"/>
<path d="M345.20 272.80 C351.57 272.80 370.53 265.88 383.40 272.80 C396.27 279.72 409.43 305.43 422.40 314.30 C435.37 323.17 448.30 319.62 461.20 326.00 C474.10 332.38 493.37 348.17 499.80 352.60" stroke="#000" stroke-width="1.75" fill="none"/>
<path d="M383.4 265.6v14.4M380.59999999999997 265.6h5.6M380.59999999999997 280.0h5.6" stroke="#000" stroke-width="1.25" fill="none"/>
<path d="M461.2 322.5v7.0M458.4 322.5h5.6M458.4 329.5h5.6" stroke="#000" stroke-width="1.25" fill="none"/>
<rect x="342.0" y="269.6" width="6.4" height="6.4" fill="#000"/>
<rect x="380.2" y="269.6" width="6.4" height="6.4" fill="#000"/>
<rect x="419.2" y="311.1" width="6.4" height="6.4" fill="#000"/>
<rect x="458.0" y="322.8" width="6.4" height="6.4" fill="#000"/>
<rect x="496.6" y="349.40000000000003" width="6.4" height="6.4" fill="#000"/>
<rect x="446.8" y="219.9" width="58" height="29.6" fill="#fff" stroke="#000" stroke-width="1.3"/>
<path d="M452.6 228.70000000000002h16.7M452.6 241.0h16.7" stroke="#000" stroke-width="1.4"/>
<circle cx="461.1" cy="228.70000000000002" r="3" fill="#000"/>
<rect x="458.1" y="238.0" width="6" height="6" fill="#000"/>
<text x="474.40000000000003" y="231.70000000000002" font-size="8.4" font-weight="normal" text-anchor="start" >DEX</text>
<text x="474.40000000000003" y="244.0" font-size="8.4" font-weight="normal" text-anchor="start" >Saline</text>
<text x="422.5" y="399.5" font-size="11" font-weight="normal" text-anchor="middle" >Time after Wound (d)</text>
<text x="344.85" y="384.0" font-size="8.2" font-weight="bold" text-anchor="middle" >0</text>
<text x="383.75" y="384.0" font-size="8.2" font-weight="bold" text-anchor="middle" >1</text>
<text x="422.65" y="384.0" font-size="8.2" font-weight="bold" text-anchor="middle" >4</text>
<text x="461.55" y="384.0" font-size="8.2" font-weight="bold" text-anchor="middle" >7</text>
<text x="500.45" y="384.0" font-size="8.2" font-weight="bold" text-anchor="middle" >10</text>
<text transform="translate(289.1 294) rotate(-90)" font-size="11" text-anchor="middle">Wound Area (%)</text>
</svg>
</body></html>
